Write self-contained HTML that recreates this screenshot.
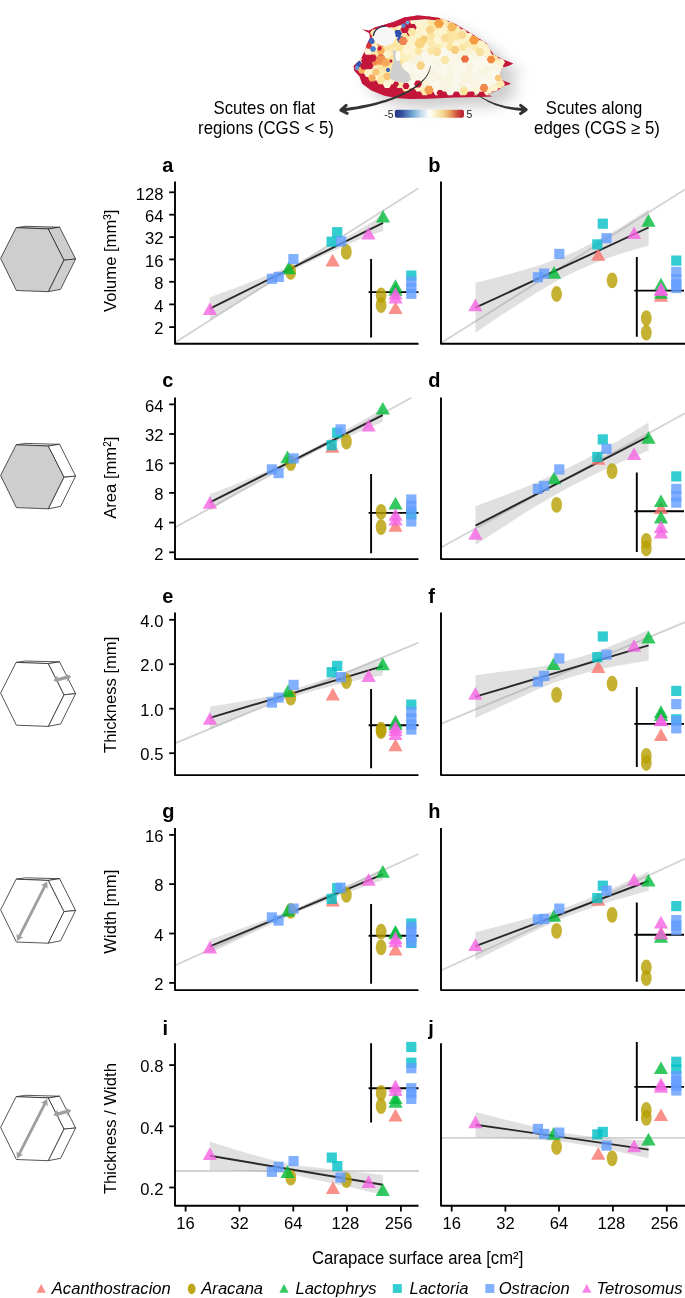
<!DOCTYPE html>
<html><head><meta charset="utf-8"><title>Figure</title>
<style>html,body{margin:0;padding:0;background:#fff}body{width:685px;height:1298px;overflow:hidden}svg{display:block}text{font-family:"Liberation Sans",sans-serif;fill:#000}</style>
</head><body>
<svg width="685" height="1298" viewBox="0 0 685 1298">
<defs>
<linearGradient id="cb" x1="0" x2="1" y1="0" y2="0"><stop offset="0" stop-color="#26337d"/><stop offset="0.1" stop-color="#35509f"/><stop offset="0.25" stop-color="#6ea3d0"/><stop offset="0.38" stop-color="#c4dcec"/><stop offset="0.5" stop-color="#ffffff"/><stop offset="0.6" stop-color="#f8edc4"/><stop offset="0.7" stop-color="#f3d590"/><stop offset="0.8" stop-color="#e9a060"/><stop offset="0.9" stop-color="#d0503f"/><stop offset="1" stop-color="#b2182b"/></linearGradient>
<filter id="blur6" x="-50%" y="-50%" width="200%" height="200%"><feGaussianBlur stdDeviation="7"/></filter>
<filter id="blur1" x="-20%" y="-20%" width="140%" height="140%"><feGaussianBlur stdDeviation="0.6"/></filter>
</defs>
<rect width="685" height="1298" fill="#fff"/>
<g id="fish">
<g filter="url(#blur6)" opacity="0.5"><path d="M373.1 38.3L379.7 39.6L386.2 36.3L395.4 33.7L405.9 30.4L415.1 26.5L428.3 24.5L436.0 24.9L450.6 27.1L465.2 32.2L479.8 41.0L490.0 47.6L497.3 52.0L504.6 63.6L514.8 68.7L524.3 72.4L520.7 74.6L513.4 76.8L511.2 82.6L513.4 89.2L522.1 92.8L514.8 95.0L507.5 100.1L498.8 103.1L503.2 105.4L491.5 106.0L465.2 106.4L438.6 107.8L421.7 107.9L408.6 107.3L395.4 104.7L382.3 99.4L373.1 92.8L370.5 85.6L365.2 79.7L364.5 75.1L371.8 67.9L375.7 60.0L377.7 53.4L381.0 46.8L380.3 42.2Z" fill="#9a9a9a"/></g>
<clipPath id="fishclip"><path d="M362.1 29.3L368.7 30.6L375.2 27.3L384.4 24.7L394.9 21.4L404.1 17.5L417.3 15.5L425.0 15.9L439.6 18.1L454.2 23.2L468.8 32.0L479.0 38.6L486.3 43.0L493.6 54.6L503.8 59.7L513.3 63.4L509.7 65.6L502.4 67.8L500.2 73.6L502.4 80.2L511.1 83.8L503.8 86.0L496.5 91.1L487.8 94.1L492.2 96.4L480.5 97.0L454.2 97.4L427.6 98.8L410.7 98.9L397.6 98.3L384.4 95.7L371.3 90.4L362.1 83.8L359.5 76.6L354.2 70.7L353.5 66.1L360.8 58.9L364.7 51.0L366.7 44.4L370.0 37.8L369.3 33.2Z"/></clipPath>
<path d="M362.1 29.3L368.7 30.6L375.2 27.3L384.4 24.7L394.9 21.4L404.1 17.5L417.3 15.5L425.0 15.9L439.6 18.1L454.2 23.2L468.8 32.0L479.0 38.6L486.3 43.0L493.6 54.6L503.8 59.7L513.3 63.4L509.7 65.6L502.4 67.8L500.2 73.6L502.4 80.2L511.1 83.8L503.8 86.0L496.5 91.1L487.8 94.1L492.2 96.4L480.5 97.0L454.2 97.4L427.6 98.8L410.7 98.9L397.6 98.3L384.4 95.7L371.3 90.4L362.1 83.8L359.5 76.6L354.2 70.7L353.5 66.1L360.8 58.9L364.7 51.0L366.7 44.4L370.0 37.8L369.3 33.2Z" fill="#c4163a"/>
<g clip-path="url(#fishclip)">
<path d="M373.0 33.6L373.4 38.1L373.4 38.2L373.4 38.4L373.4 38.5L373.4 38.7L373.4 38.8L373.3 38.9L370.0 45.7L368.0 52.2L367.9 52.3L367.9 52.4L363.7 60.8L363.7 60.9L363.6 61.0L363.5 61.1L357.7 67.3L358.2 67.8L365.4 72.2L365.5 72.3L365.6 72.4L370.1 76.3L377.4 78.4L377.5 78.4L388.3 82.8L399.3 85.9L411.1 88.4L427.5 90.8L454.1 91.3L480.4 91.5L480.6 91.5L483.5 92.0L483.5 91.9L483.5 91.8L483.5 91.6L483.5 91.5L483.6 91.3L483.6 91.2L483.7 91.1L483.8 90.9L483.9 90.8L484.0 90.7L484.1 90.6L484.2 90.5L484.4 90.5L484.5 90.4L494.4 86.9L501.3 82.7L500.8 82.3L500.6 82.2L500.5 82.2L500.4 82.0L500.3 81.9L500.3 81.8L500.2 81.7L500.2 81.5L497.8 74.1L497.7 73.9L497.7 73.8L497.7 73.6L497.7 73.5L497.7 73.3L497.8 73.2L497.8 73.1L500.4 66.5L500.4 66.4L500.5 66.2L500.6 66.1L500.7 66.0L500.8 65.9L500.9 65.8L501.0 65.7L504.5 63.9L502.5 63.5L502.3 63.4L502.2 63.4L502.1 63.3L491.4 57.5L491.2 57.4L491.1 57.4L491.0 57.3L490.9 57.2L490.9 57.0L490.8 56.9L484.1 45.1L477.5 41.0L477.5 41.0L467.3 34.4L453.0 25.7L438.9 20.9L424.7 19.2L417.7 19.6L405.4 22.0L396.7 26.0L396.6 26.1L385.9 29.5L385.8 29.5L376.9 32.0Z" fill="#fcf0c0"/>
<path d="M416.8 18.6L414.5 22.4L410.1 22.4L407.9 18.6L410.1 14.7L414.5 14.7Z" fill="#fdf5d6"/>
<path d="M429.4 18.6L427.1 22.4L422.7 22.4L420.5 18.6L422.7 14.7L427.1 14.7Z" fill="#fdf5d6"/>
<path d="M442.0 18.6L439.7 22.4L435.3 22.4L433.1 18.6L435.3 14.7L439.7 14.7Z" fill="#fbebb0"/>
<path d="M410.5 22.2L408.2 26.1L403.8 26.1L401.6 22.2L403.8 18.4L408.2 18.4Z" fill="#fbebb0"/>
<path d="M423.1 22.2L420.8 26.1L416.4 26.1L414.2 22.2L416.4 18.4L420.8 18.4Z" fill="#fdf5d6"/>
<path d="M435.7 22.2L433.4 26.1L429.0 26.1L426.8 22.2L429.0 18.4L433.4 18.4Z" fill="#fae6a2"/>
<path d="M448.3 22.2L446.0 26.1L441.6 26.1L439.4 22.2L441.6 18.4L446.0 18.4Z" fill="#fbebb0"/>
<path d="M404.2 25.8L401.9 29.7L397.5 29.7L395.3 25.8L397.5 22.0L401.9 22.0Z" fill="#fcf3cc"/>
<path d="M416.8 25.8L414.5 29.7L410.1 29.7L407.9 25.8L410.1 22.0L414.5 22.0Z" fill="#fcf3cc"/>
<path d="M429.4 25.8L427.1 29.7L422.7 29.7L420.5 25.8L422.7 22.0L427.1 22.0Z" fill="#fcf3cc"/>
<path d="M442.0 25.8L439.7 29.7L435.3 29.7L433.1 25.8L435.3 22.0L439.7 22.0Z" fill="#fae6a2"/>
<path d="M454.6 25.8L452.3 29.7L447.9 29.7L445.7 25.8L447.9 22.0L452.3 22.0Z" fill="#fbebb0"/>
<path d="M385.3 29.5L383.0 33.3L378.6 33.3L376.4 29.5L378.6 25.6L383.0 25.6Z" fill="#fdf5d6"/>
<path d="M397.9 29.5L395.6 33.3L391.2 33.3L389.0 29.5L391.2 25.6L395.6 25.6Z" fill="#fae6a2"/>
<path d="M410.5 29.5L408.2 33.3L403.8 33.3L401.6 29.5L403.8 25.6L408.2 25.6Z" fill="#fcf3cc"/>
<path d="M423.1 29.5L420.8 33.3L416.4 33.3L414.2 29.5L416.4 25.6L420.8 25.6Z" fill="#fcf3cc"/>
<path d="M435.7 29.5L433.4 33.3L429.0 33.3L426.8 29.5L429.0 25.6L433.4 25.6Z" fill="#fae6a2"/>
<path d="M448.3 29.5L446.0 33.3L441.6 33.3L439.4 29.5L441.6 25.6L446.0 25.6Z" fill="#fcf3cc"/>
<path d="M460.9 29.5L458.6 33.3L454.2 33.3L452.0 29.5L454.2 25.6L458.6 25.6Z" fill="#fbebb0"/>
<path d="M379.0 33.1L376.7 37.0L372.3 37.0L370.1 33.1L372.3 29.3L376.7 29.3Z" fill="#fbebb0"/>
<path d="M391.6 33.1L389.3 37.0L384.9 37.0L382.7 33.1L384.9 29.3L389.3 29.3Z" fill="#faf2d4"/>
<path d="M404.2 33.1L401.9 37.0L397.5 37.0L395.3 33.1L397.5 29.3L401.9 29.3Z" fill="#fae6a2"/>
<path d="M416.8 33.1L414.5 37.0L410.1 37.0L407.9 33.1L410.1 29.3L414.5 29.3Z" fill="#fcf3cc"/>
<path d="M429.4 33.1L427.1 37.0L422.7 37.0L420.5 33.1L422.7 29.3L427.1 29.3Z" fill="#fdf5d6"/>
<path d="M442.0 33.1L439.7 37.0L435.3 37.0L433.1 33.1L435.3 29.3L439.7 29.3Z" fill="#fcf3cc"/>
<path d="M454.6 33.1L452.3 37.0L447.9 37.0L445.7 33.1L447.9 29.3L452.3 29.3Z" fill="#fae6a2"/>
<path d="M467.2 33.1L464.9 37.0L460.5 37.0L458.3 33.1L460.5 29.3L464.9 29.3Z" fill="#fcf3cc"/>
<path d="M385.3 36.8L383.0 40.6L378.6 40.6L376.4 36.8L378.6 32.9L383.0 32.9Z" fill="#f6b15a"/>
<path d="M397.9 36.8L395.6 40.6L391.2 40.6L389.0 36.8L391.2 32.9L395.6 32.9Z" fill="#fae6a2"/>
<path d="M410.5 36.8L408.2 40.6L403.8 40.6L401.6 36.8L403.8 32.9L408.2 32.9Z" fill="#fae6a2"/>
<path d="M423.1 36.8L420.8 40.6L416.4 40.6L414.2 36.8L416.4 32.9L420.8 32.9Z" fill="#fcf3cc"/>
<path d="M435.7 36.8L433.4 40.6L429.0 40.6L426.8 36.8L429.0 32.9L433.4 32.9Z" fill="#fae6a2"/>
<path d="M448.3 36.8L446.0 40.6L441.6 40.6L439.4 36.8L441.6 32.9L446.0 32.9Z" fill="#fdf5d6"/>
<path d="M460.9 36.8L458.6 40.6L454.2 40.6L452.0 36.8L454.2 32.9L458.6 32.9Z" fill="#fae6a2"/>
<path d="M473.5 36.8L471.2 40.6L466.8 40.6L464.6 36.8L466.8 32.9L471.2 32.9Z" fill="#fcf3cc"/>
<path d="M379.0 40.4L376.7 44.3L372.3 44.3L370.1 40.4L372.3 36.5L376.7 36.5Z" fill="#fae6a2"/>
<path d="M391.6 40.4L389.3 44.3L384.9 44.3L382.7 40.4L384.9 36.5L389.3 36.5Z" fill="#f3a253"/>
<path d="M404.2 40.4L401.9 44.3L397.5 44.3L395.3 40.4L397.5 36.5L401.9 36.5Z" fill="#fae6a2"/>
<path d="M416.8 40.4L414.5 44.3L410.1 44.3L407.9 40.4L410.1 36.5L414.5 36.5Z" fill="#fcf3cc"/>
<path d="M429.4 40.4L427.1 44.3L422.7 44.3L420.5 40.4L422.7 36.5L427.1 36.5Z" fill="#fcf0c0"/>
<path d="M442.0 40.4L439.7 44.3L435.3 44.3L433.1 40.4L435.3 36.5L439.7 36.5Z" fill="#fdf5d6"/>
<path d="M454.6 40.4L452.3 44.3L447.9 44.3L445.7 40.4L447.9 36.5L452.3 36.5Z" fill="#fae6a2"/>
<path d="M467.2 40.4L464.9 44.3L460.5 44.3L458.3 40.4L460.5 36.5L464.9 36.5Z" fill="#fcf3cc"/>
<path d="M479.8 40.4L477.5 44.3L473.1 44.3L470.9 40.4L473.1 36.5L477.5 36.5Z" fill="#fae6a2"/>
<path d="M385.3 44.0L383.0 47.9L378.6 47.9L376.4 44.0L378.6 40.2L383.0 40.2Z" fill="#f08a4a"/>
<path d="M397.9 44.0L395.6 47.9L391.2 47.9L389.0 44.0L391.2 40.2L395.6 40.2Z" fill="#fae6a2"/>
<path d="M410.5 44.0L408.2 47.9L403.8 47.9L401.6 44.0L403.8 40.2L408.2 40.2Z" fill="#fcf3cc"/>
<path d="M423.1 44.0L420.8 47.9L416.4 47.9L414.2 44.0L416.4 40.2L420.8 40.2Z" fill="#fae6a2"/>
<path d="M435.7 44.0L433.4 47.9L429.0 47.9L426.8 44.0L429.0 40.2L433.4 40.2Z" fill="#fbebb0"/>
<path d="M448.3 44.0L446.0 47.9L441.6 47.9L439.4 44.0L441.6 40.2L446.0 40.2Z" fill="#fcf3cc"/>
<path d="M460.9 44.0L458.6 47.9L454.2 47.9L452.0 44.0L454.2 40.2L458.6 40.2Z" fill="#fdf5d6"/>
<path d="M473.5 44.0L471.2 47.9L466.8 47.9L464.6 44.0L466.8 40.2L471.2 40.2Z" fill="#fbebb0"/>
<path d="M486.1 44.0L483.8 47.9L479.4 47.9L477.2 44.0L479.4 40.2L483.8 40.2Z" fill="#fcf3cc"/>
<path d="M379.0 47.7L376.7 51.5L372.3 51.5L370.1 47.7L372.3 43.8L376.7 43.8Z" fill="#fcf3cc"/>
<path d="M391.6 47.7L389.3 51.5L384.9 51.5L382.7 47.7L384.9 43.8L389.3 43.8Z" fill="#fae6a2"/>
<path d="M404.2 47.7L401.9 51.5L397.5 51.5L395.3 47.7L397.5 43.8L401.9 43.8Z" fill="#fae6a2"/>
<path d="M416.8 47.7L414.5 51.5L410.1 51.5L407.9 47.7L410.1 43.8L414.5 43.8Z" fill="#fdf5d6"/>
<path d="M429.4 47.7L427.1 51.5L422.7 51.5L420.5 47.7L422.7 43.8L427.1 43.8Z" fill="#fdf5d6"/>
<path d="M442.0 47.7L439.7 51.5L435.3 51.5L433.1 47.7L435.3 43.8L439.7 43.8Z" fill="#fbebb0"/>
<path d="M454.6 47.7L452.3 51.5L447.9 51.5L445.7 47.7L447.9 43.8L452.3 43.8Z" fill="#fae6a2"/>
<path d="M467.2 47.7L464.9 51.5L460.5 51.5L458.3 47.7L460.5 43.8L464.9 43.8Z" fill="#fae6a2"/>
<path d="M479.8 47.7L477.5 51.5L473.1 51.5L470.9 47.7L473.1 43.8L477.5 43.8Z" fill="#fbebb0"/>
<path d="M492.4 47.7L490.1 51.5L485.7 51.5L483.5 47.7L485.7 43.8L490.1 43.8Z" fill="#fcf3cc"/>
<path d="M372.7 51.3L370.4 55.2L366.0 55.2L363.8 51.3L366.0 47.5L370.4 47.5Z" fill="#fdf5d6"/>
<path d="M385.3 51.3L383.0 55.2L378.6 55.2L376.4 51.3L378.6 47.5L383.0 47.5Z" fill="#f6b15a"/>
<path d="M397.9 51.3L395.6 55.2L391.2 55.2L389.0 51.3L391.2 47.5L395.6 47.5Z" fill="#fbebb0"/>
<path d="M410.5 51.3L408.2 55.2L403.8 55.2L401.6 51.3L403.8 47.5L408.2 47.5Z" fill="#fdf5d6"/>
<path d="M423.1 51.3L420.8 55.2L416.4 55.2L414.2 51.3L416.4 47.5L420.8 47.5Z" fill="#fae6a2"/>
<path d="M435.7 51.3L433.4 55.2L429.0 55.2L426.8 51.3L429.0 47.5L433.4 47.5Z" fill="#fae6a2"/>
<path d="M448.3 51.3L446.0 55.2L441.6 55.2L439.4 51.3L441.6 47.5L446.0 47.5Z" fill="#faf8ec"/>
<path d="M460.9 51.3L458.6 55.2L454.2 55.2L452.0 51.3L454.2 47.5L458.6 47.5Z" fill="#f9f7ea"/>
<path d="M473.5 51.3L471.2 55.2L466.8 55.2L464.6 51.3L466.8 47.5L471.2 47.5Z" fill="#faf2d4"/>
<path d="M486.1 51.3L483.8 55.2L479.4 55.2L477.2 51.3L479.4 47.5L483.8 47.5Z" fill="#fcf3cc"/>
<path d="M379.0 54.9L376.7 58.8L372.3 58.8L370.1 54.9L372.3 51.1L376.7 51.1Z" fill="#fae6a2"/>
<path d="M391.6 54.9L389.3 58.8L384.9 58.8L382.7 54.9L384.9 51.1L389.3 51.1Z" fill="#fcf3cc"/>
<path d="M404.2 54.9L401.9 58.8L397.5 58.8L395.3 54.9L397.5 51.1L401.9 51.1Z" fill="#fbebb0"/>
<path d="M416.8 54.9L414.5 58.8L410.1 58.8L407.9 54.9L410.1 51.1L414.5 51.1Z" fill="#fcf3cc"/>
<path d="M429.4 54.9L427.1 58.8L422.7 58.8L420.5 54.9L422.7 51.1L427.1 51.1Z" fill="#fbf9ee"/>
<path d="M442.0 54.9L439.7 58.8L435.3 58.8L433.1 54.9L435.3 51.1L439.7 51.1Z" fill="#fbf9ee"/>
<path d="M454.6 54.9L452.3 58.8L447.9 58.8L445.7 54.9L447.9 51.1L452.3 51.1Z" fill="#f9f7ea"/>
<path d="M467.2 54.9L464.9 58.8L460.5 58.8L458.3 54.9L460.5 51.1L464.9 51.1Z" fill="#f7f4e0"/>
<path d="M479.8 54.9L477.5 58.8L473.1 58.8L470.9 54.9L473.1 51.1L477.5 51.1Z" fill="#f8f5e2"/>
<path d="M492.4 54.9L490.1 58.8L485.7 58.8L483.5 54.9L485.7 51.1L490.1 51.1Z" fill="#fcf3cc"/>
<path d="M372.7 58.6L370.4 62.4L366.0 62.4L363.8 58.6L366.0 54.7L370.4 54.7Z" fill="#c4163a"/>
<path d="M385.3 58.6L383.0 62.4L378.6 62.4L376.4 58.6L378.6 54.7L383.0 54.7Z" fill="#c4163a"/>
<path d="M397.9 58.6L395.6 62.4L391.2 62.4L389.0 58.6L391.2 54.7L395.6 54.7Z" fill="#fae6a2"/>
<path d="M410.5 58.6L408.2 62.4L403.8 62.4L401.6 58.6L403.8 54.7L408.2 54.7Z" fill="#fcf0c0"/>
<path d="M423.1 58.6L420.8 62.4L416.4 62.4L414.2 58.6L416.4 54.7L420.8 54.7Z" fill="#f7f4e0"/>
<path d="M435.7 58.6L433.4 62.4L429.0 62.4L426.8 58.6L429.0 54.7L433.4 54.7Z" fill="#f9f7ea"/>
<path d="M448.3 58.6L446.0 62.4L441.6 62.4L439.4 58.6L441.6 54.7L446.0 54.7Z" fill="#faf8ec"/>
<path d="M460.9 58.6L458.6 62.4L454.2 62.4L452.0 58.6L454.2 54.7L458.6 54.7Z" fill="#f8f5e2"/>
<path d="M473.5 58.6L471.2 62.4L466.8 62.4L464.6 58.6L466.8 54.7L471.2 54.7Z" fill="#f9f7ea"/>
<path d="M486.1 58.6L483.8 62.4L479.4 62.4L477.2 58.6L479.4 54.7L483.8 54.7Z" fill="#faf8ec"/>
<path d="M498.7 58.6L496.4 62.4L492.0 62.4L489.8 58.6L492.0 54.7L496.4 54.7Z" fill="#fae6a2"/>
<path d="M366.4 62.2L364.1 66.1L359.7 66.1L357.5 62.2L359.7 58.4L364.1 58.4Z" fill="#fcf3cc"/>
<path d="M379.0 62.2L376.7 66.1L372.3 66.1L370.1 62.2L372.3 58.4L376.7 58.4Z" fill="#f08a4a"/>
<path d="M391.6 62.2L389.3 66.1L384.9 66.1L382.7 62.2L384.9 58.4L389.3 58.4Z" fill="#f7c274"/>
<path d="M404.2 62.2L401.9 66.1L397.5 66.1L395.3 62.2L397.5 58.4L401.9 58.4Z" fill="#fae6a2"/>
<path d="M416.8 62.2L414.5 66.1L410.1 66.1L407.9 62.2L410.1 58.4L414.5 58.4Z" fill="#f7f4e0"/>
<path d="M429.4 62.2L427.1 66.1L422.7 66.1L420.5 62.2L422.7 58.4L427.1 58.4Z" fill="#fbf9ee"/>
<path d="M442.0 62.2L439.7 66.1L435.3 66.1L433.1 62.2L435.3 58.4L439.7 58.4Z" fill="#f8f5e2"/>
<path d="M454.6 62.2L452.3 66.1L447.9 66.1L445.7 62.2L447.9 58.4L452.3 58.4Z" fill="#f9f7ea"/>
<path d="M467.2 62.2L464.9 66.1L460.5 66.1L458.3 62.2L460.5 58.4L464.9 58.4Z" fill="#f9f7ea"/>
<path d="M479.8 62.2L477.5 66.1L473.1 66.1L470.9 62.2L473.1 58.4L477.5 58.4Z" fill="#fbf9ee"/>
<path d="M492.4 62.2L490.1 66.1L485.7 66.1L483.5 62.2L485.7 58.4L490.1 58.4Z" fill="#fbf9ee"/>
<path d="M505.0 62.2L502.7 66.1L498.3 66.1L496.1 62.2L498.3 58.4L502.7 58.4Z" fill="#fcf3cc"/>
<path d="M372.7 65.9L370.4 69.7L366.0 69.7L363.8 65.9L366.0 62.0L370.4 62.0Z" fill="#c4163a"/>
<path d="M385.3 65.9L383.0 69.7L378.6 69.7L376.4 65.9L378.6 62.0L383.0 62.0Z" fill="#fae6a2"/>
<path d="M397.9 65.9L395.6 69.7L391.2 69.7L389.0 65.9L391.2 62.0L395.6 62.0Z" fill="#fae6a2"/>
<path d="M410.5 65.9L408.2 69.7L403.8 69.7L401.6 65.9L403.8 62.0L408.2 62.0Z" fill="#fbf9ee"/>
<path d="M423.1 65.9L420.8 69.7L416.4 69.7L414.2 65.9L416.4 62.0L420.8 62.0Z" fill="#faf8ec"/>
<path d="M435.7 65.9L433.4 69.7L429.0 69.7L426.8 65.9L429.0 62.0L433.4 62.0Z" fill="#fbf9ee"/>
<path d="M448.3 65.9L446.0 69.7L441.6 69.7L439.4 65.9L441.6 62.0L446.0 62.0Z" fill="#fbf9ee"/>
<path d="M460.9 65.9L458.6 69.7L454.2 69.7L452.0 65.9L454.2 62.0L458.6 62.0Z" fill="#f9f7ea"/>
<path d="M473.5 65.9L471.2 69.7L466.8 69.7L464.6 65.9L466.8 62.0L471.2 62.0Z" fill="#f7f4e0"/>
<path d="M486.1 65.9L483.8 69.7L479.4 69.7L477.2 65.9L479.4 62.0L483.8 62.0Z" fill="#fbf9ee"/>
<path d="M498.7 65.9L496.4 69.7L492.0 69.7L489.8 65.9L492.0 62.0L496.4 62.0Z" fill="#f8f5e2"/>
<path d="M366.4 69.5L364.1 73.4L359.7 73.4L357.5 69.5L359.7 65.6L364.1 65.6Z" fill="#f6b15a"/>
<path d="M379.0 69.5L376.7 73.4L372.3 73.4L370.1 69.5L372.3 65.6L376.7 65.6Z" fill="#fcf0c0"/>
<path d="M391.6 69.5L389.3 73.4L384.9 73.4L382.7 69.5L384.9 65.6L389.3 65.6Z" fill="#fae6a2"/>
<path d="M404.2 69.5L401.9 73.4L397.5 73.4L395.3 69.5L397.5 65.6L401.9 65.6Z" fill="#fae6a2"/>
<path d="M416.8 69.5L414.5 73.4L410.1 73.4L407.9 69.5L410.1 65.6L414.5 65.6Z" fill="#f9f7ea"/>
<path d="M429.4 69.5L427.1 73.4L422.7 73.4L420.5 69.5L422.7 65.6L427.1 65.6Z" fill="#fbf9ee"/>
<path d="M442.0 69.5L439.7 73.4L435.3 73.4L433.1 69.5L435.3 65.6L439.7 65.6Z" fill="#f9f7ea"/>
<path d="M454.6 69.5L452.3 73.4L447.9 73.4L445.7 69.5L447.9 65.6L452.3 65.6Z" fill="#f8f5e2"/>
<path d="M467.2 69.5L464.9 73.4L460.5 73.4L458.3 69.5L460.5 65.6L464.9 65.6Z" fill="#f9f7ea"/>
<path d="M479.8 69.5L477.5 73.4L473.1 73.4L470.9 69.5L473.1 65.6L477.5 65.6Z" fill="#fbf9ee"/>
<path d="M492.4 69.5L490.1 73.4L485.7 73.4L483.5 69.5L485.7 65.6L490.1 65.6Z" fill="#f8f5e2"/>
<path d="M505.0 69.5L502.7 73.4L498.3 73.4L496.1 69.5L498.3 65.6L502.7 65.6Z" fill="#f8f5e2"/>
<path d="M372.7 73.1L370.4 77.0L366.0 77.0L363.8 73.1L366.0 69.3L370.4 69.3Z" fill="#fcf3cc"/>
<path d="M385.3 73.1L383.0 77.0L378.6 77.0L376.4 73.1L378.6 69.3L383.0 69.3Z" fill="#fbebb0"/>
<path d="M397.9 73.1L395.6 77.0L391.2 77.0L389.0 73.1L391.2 69.3L395.6 69.3Z" fill="#fae6a2"/>
<path d="M410.5 73.1L408.2 77.0L403.8 77.0L401.6 73.1L403.8 69.3L408.2 69.3Z" fill="#faf8ec"/>
<path d="M423.1 73.1L420.8 77.0L416.4 77.0L414.2 73.1L416.4 69.3L420.8 69.3Z" fill="#fbf9ee"/>
<path d="M435.7 73.1L433.4 77.0L429.0 77.0L426.8 73.1L429.0 69.3L433.4 69.3Z" fill="#f7f4e0"/>
<path d="M448.3 73.1L446.0 77.0L441.6 77.0L439.4 73.1L441.6 69.3L446.0 69.3Z" fill="#fbf9ee"/>
<path d="M460.9 73.1L458.6 77.0L454.2 77.0L452.0 73.1L454.2 69.3L458.6 69.3Z" fill="#faf8ec"/>
<path d="M473.5 73.1L471.2 77.0L466.8 77.0L464.6 73.1L466.8 69.3L471.2 69.3Z" fill="#f7f4e0"/>
<path d="M486.1 73.1L483.8 77.0L479.4 77.0L477.2 73.1L479.4 69.3L483.8 69.3Z" fill="#f7f4e0"/>
<path d="M498.7 73.1L496.4 77.0L492.0 77.0L489.8 73.1L492.0 69.3L496.4 69.3Z" fill="#fbf9ee"/>
<path d="M379.0 76.8L376.7 80.6L372.3 80.6L370.1 76.8L372.3 72.9L376.7 72.9Z" fill="#fdf5d6"/>
<path d="M391.6 76.8L389.3 80.6L384.9 80.6L382.7 76.8L384.9 72.9L389.3 72.9Z" fill="#f7c274"/>
<path d="M404.2 76.8L401.9 80.6L397.5 80.6L395.3 76.8L397.5 72.9L401.9 72.9Z" fill="#fae6a2"/>
<path d="M416.8 76.8L414.5 80.6L410.1 80.6L407.9 76.8L410.1 72.9L414.5 72.9Z" fill="#f8f5e2"/>
<path d="M429.4 76.8L427.1 80.6L422.7 80.6L420.5 76.8L422.7 72.9L427.1 72.9Z" fill="#faf8ec"/>
<path d="M442.0 76.8L439.7 80.6L435.3 80.6L433.1 76.8L435.3 72.9L439.7 72.9Z" fill="#f8f5e2"/>
<path d="M454.6 76.8L452.3 80.6L447.9 80.6L445.7 76.8L447.9 72.9L452.3 72.9Z" fill="#f7f4e0"/>
<path d="M467.2 76.8L464.9 80.6L460.5 80.6L458.3 76.8L460.5 72.9L464.9 72.9Z" fill="#f8f5e2"/>
<path d="M479.8 76.8L477.5 80.6L473.1 80.6L470.9 76.8L473.1 72.9L477.5 72.9Z" fill="#f9f7ea"/>
<path d="M492.4 76.8L490.1 80.6L485.7 80.6L483.5 76.8L485.7 72.9L490.1 72.9Z" fill="#f9f7ea"/>
<path d="M505.0 76.8L502.7 80.6L498.3 80.6L496.1 76.8L498.3 72.9L502.7 72.9Z" fill="#f8f5e2"/>
<path d="M385.3 80.4L383.0 84.3L378.6 84.3L376.4 80.4L378.6 76.6L383.0 76.6Z" fill="#fae6a2"/>
<path d="M397.9 80.4L395.6 84.3L391.2 84.3L389.0 80.4L391.2 76.6L395.6 76.6Z" fill="#fcf3cc"/>
<path d="M410.5 80.4L408.2 84.3L403.8 84.3L401.6 80.4L403.8 76.6L408.2 76.6Z" fill="#fdf5d6"/>
<path d="M423.1 80.4L420.8 84.3L416.4 84.3L414.2 80.4L416.4 76.6L420.8 76.6Z" fill="#f9f7ea"/>
<path d="M435.7 80.4L433.4 84.3L429.0 84.3L426.8 80.4L429.0 76.6L433.4 76.6Z" fill="#f9f7ea"/>
<path d="M448.3 80.4L446.0 84.3L441.6 84.3L439.4 80.4L441.6 76.6L446.0 76.6Z" fill="#f8f5e2"/>
<path d="M460.9 80.4L458.6 84.3L454.2 84.3L452.0 80.4L454.2 76.6L458.6 76.6Z" fill="#faf8ec"/>
<path d="M473.5 80.4L471.2 84.3L466.8 84.3L464.6 80.4L466.8 76.6L471.2 76.6Z" fill="#f8f5e2"/>
<path d="M486.1 80.4L483.8 84.3L479.4 84.3L477.2 80.4L479.4 76.6L483.8 76.6Z" fill="#faf8ec"/>
<path d="M498.7 80.4L496.4 84.3L492.0 84.3L489.8 80.4L492.0 76.6L496.4 76.6Z" fill="#fbf9ee"/>
<path d="M391.6 84.0L389.3 87.9L384.9 87.9L382.7 84.0L384.9 80.2L389.3 80.2Z" fill="#fdf5d6"/>
<path d="M404.2 84.0L401.9 87.9L397.5 87.9L395.3 84.0L397.5 80.2L401.9 80.2Z" fill="#fbebb0"/>
<path d="M416.8 84.0L414.5 87.9L410.1 87.9L407.9 84.0L410.1 80.2L414.5 80.2Z" fill="#fbf9ee"/>
<path d="M429.4 84.0L427.1 87.9L422.7 87.9L420.5 84.0L422.7 80.2L427.1 80.2Z" fill="#faf2d4"/>
<path d="M442.0 84.0L439.7 87.9L435.3 87.9L433.1 84.0L435.3 80.2L439.7 80.2Z" fill="#fbf9ee"/>
<path d="M454.6 84.0L452.3 87.9L447.9 87.9L445.7 84.0L447.9 80.2L452.3 80.2Z" fill="#f8f5e2"/>
<path d="M467.2 84.0L464.9 87.9L460.5 87.9L458.3 84.0L460.5 80.2L464.9 80.2Z" fill="#f7f4e0"/>
<path d="M479.8 84.0L477.5 87.9L473.1 87.9L470.9 84.0L473.1 80.2L477.5 80.2Z" fill="#f8f5e2"/>
<path d="M492.4 84.0L490.1 87.9L485.7 87.9L483.5 84.0L485.7 80.2L490.1 80.2Z" fill="#faf8ec"/>
<path d="M505.0 84.0L502.7 87.9L498.3 87.9L496.1 84.0L498.3 80.2L502.7 80.2Z" fill="#fbebb0"/>
<path d="M410.5 87.7L408.2 91.5L403.8 91.5L401.6 87.7L403.8 83.8L408.2 83.8Z" fill="#fbebb0"/>
<path d="M423.1 87.7L420.8 91.5L416.4 91.5L414.2 87.7L416.4 83.8L420.8 83.8Z" fill="#fcf3cc"/>
<path d="M435.7 87.7L433.4 91.5L429.0 91.5L426.8 87.7L429.0 83.8L433.4 83.8Z" fill="#fbf9ee"/>
<path d="M448.3 87.7L446.0 91.5L441.6 91.5L439.4 87.7L441.6 83.8L446.0 83.8Z" fill="#f7f4e0"/>
<path d="M460.9 87.7L458.6 91.5L454.2 91.5L452.0 87.7L454.2 83.8L458.6 83.8Z" fill="#f9f7ea"/>
<path d="M473.5 87.7L471.2 91.5L466.8 91.5L464.6 87.7L466.8 83.8L471.2 83.8Z" fill="#f9f7ea"/>
<path d="M486.1 87.7L483.8 91.5L479.4 91.5L477.2 87.7L479.4 83.8L483.8 83.8Z" fill="#fbf9ee"/>
<path d="M498.7 87.7L496.4 91.5L492.0 91.5L489.8 87.7L492.0 83.8L496.4 83.8Z" fill="#fcf3cc"/>
<path d="M429.4 91.3L427.1 95.2L422.7 95.2L420.5 91.3L422.7 87.5L427.1 87.5Z" fill="#fbebb0"/>
<path d="M442.0 91.3L439.7 95.2L435.3 95.2L433.1 91.3L435.3 87.5L439.7 87.5Z" fill="#fbf9ee"/>
<path d="M454.6 91.3L452.3 95.2L447.9 95.2L445.7 91.3L447.9 87.5L452.3 87.5Z" fill="#f9f7ea"/>
<path d="M467.2 91.3L464.9 95.2L460.5 95.2L458.3 91.3L460.5 87.5L464.9 87.5Z" fill="#fbf9ee"/>
<path d="M479.8 91.3L477.5 95.2L473.1 95.2L470.9 91.3L473.1 87.5L477.5 87.5Z" fill="#fdf5d6"/>
<path d="M492.4 91.3L490.1 95.2L485.7 95.2L483.5 91.3L485.7 87.5L490.1 87.5Z" fill="#fcf3cc"/>
<path d="M372 30L380 25L394 21L404 17L418 15L440 17L440 20.5L425 19.2L410 20.5L402 24.5L394 27.5L386 26.5L378 28Z" fill="#c4163a"/>
<path d="M411.6 24.5L409.3 28.5L404.7 28.5L402.4 24.5L404.7 20.5L409.3 20.5Z" fill="#c4163a"/>
<path d="M416.7 27.5L414.6 31.1L410.4 31.1L408.3 27.5L410.4 23.9L414.6 23.9Z" fill="#c4163a"/>
<path d="M408.7 29.5L406.6 33.1L402.4 33.1L400.3 29.5L402.4 25.9L406.6 25.9Z" fill="#c4163a"/>
<path d="M413.8 32.5L411.9 35.8L408.1 35.8L406.2 32.5L408.1 29.2L411.9 29.2Z" fill="#c4163a"/>
<path d="M402.0 33.5L399.9 37.1L395.7 37.1L393.6 33.5L395.7 29.9L399.9 29.9Z" fill="#2f4fae"/>
<path d="M404.4 39.5L402.5 42.8L398.7 42.8L396.8 39.5L398.7 36.2L402.5 36.2Z" fill="#3a57b5"/>
<path d="M405.9 25.6L404.7 27.7L402.3 27.7L401.1 25.6L402.3 23.5L404.7 23.5Z" fill="#4f86cc"/>
<path d="M409.7 22.6L408.6 24.5L406.4 24.5L405.3 22.6L406.4 20.7L408.6 20.7Z" fill="#6fa6da"/>
<path d="M423.5 43.6L421.2 47.5L416.8 47.5L414.5 43.6L416.8 39.7L421.2 39.7Z" fill="#f7c777"/>
<path d="M425.2 65.5L422.9 69.4L418.4 69.4L416.2 65.5L418.4 61.6L422.9 61.6Z" fill="#f8d184"/>
<path d="M375.0 41.0L373.2 44.0L369.8 44.0L368.0 41.0L369.8 38.0L373.2 38.0Z" fill="#3b62bd"/>
<path d="M372.2 46.0L370.6 48.8L367.4 48.8L365.8 46.0L367.4 43.2L370.6 43.2Z" fill="#d9362f"/>
<path d="M376.2 49.0L374.6 51.8L371.4 51.8L369.8 49.0L371.4 46.2L374.6 46.2Z" fill="#4a7fd0"/>
<path d="M381.7 48.5L380.6 50.4L378.4 50.4L377.3 48.5L378.4 46.6L380.6 46.6Z" fill="#c4163a"/>
<path d="M362.0 64.0L360.2 67.0L356.8 67.0L355.0 64.0L356.8 61.0L360.2 61.0Z" fill="#3553b0"/>
<path d="M359.5 68.0L358.2 70.2L355.8 70.2L354.5 68.0L355.8 65.8L358.2 65.8Z" fill="#6f8fd0"/>
<path d="M390.2 70.0L389.1 71.9L386.9 71.9L385.8 70.0L386.9 68.1L389.1 68.1Z" fill="#3a5fc0"/>
<path d="M392.6 61.0L391.8 62.4L390.2 62.4L389.4 61.0L390.2 59.6L391.8 59.6Z" fill="#c4163a"/>
<path d="M373.0 61.0L370.0 66.2L364.0 66.2L361.0 61.0L364.0 55.8L370.0 55.8Z" fill="#c4163a"/>
<path d="M377.0 58.0L375.0 61.5L371.0 61.5L369.0 58.0L371.0 54.5L375.0 54.5Z" fill="#c4163a"/>
<path d="M368.0 66.0L366.0 69.5L362.0 69.5L360.0 66.0L362.0 62.5L366.0 62.5Z" fill="#c4163a"/>
<path d="M373.5 66.0L371.8 69.0L368.2 69.0L366.5 66.0L368.2 63.0L371.8 63.0Z" fill="#c4163a"/>
<path d="M407.8 41.0L405.5 45.0L400.9 45.0L398.6 41.0L400.9 37.0L405.5 37.0Z" fill="#f08454"/>
<path d="M386.5 60.0L383.8 64.8L378.2 64.8L375.5 60.0L378.2 55.2L383.8 55.2Z" fill="#f3924e"/>
<path d="M389.5 63.0L387.5 66.5L383.5 66.5L381.5 63.0L383.5 59.5L387.5 59.5Z" fill="#f6a95a"/>
<path d="M380.0 72.0L378.0 75.5L374.0 75.5L372.0 72.0L374.0 68.5L378.0 68.5Z" fill="#f9c67a"/>
<path d="M376.0 78.0L374.0 81.5L370.0 81.5L368.0 78.0L370.0 74.5L374.0 74.5Z" fill="#f6a85c"/>
<path d="M425.5 43.0L422.8 47.8L417.2 47.8L414.5 43.0L417.2 38.2L422.8 38.2Z" fill="#f9d483"/>
<path d="M428.0 39.0L426.0 42.5L422.0 42.5L420.0 39.0L422.0 35.5L426.0 35.5Z" fill="#f8cf7c"/>
<path d="M444.0 23.5L441.5 27.8L436.5 27.8L434.0 23.5L436.5 19.2L441.5 19.2Z" fill="#f4a044"/>
<path d="M457.0 27.0L454.5 31.3L449.5 31.3L447.0 27.0L449.5 22.7L454.5 22.7Z" fill="#f7b95e"/>
<path d="M479.0 40.0L476.5 44.3L471.5 44.3L469.0 40.0L471.5 35.7L476.5 35.7Z" fill="#f5993f"/>
<path d="M469.2 59.0L467.1 62.6L462.9 62.6L460.8 59.0L462.9 55.4L467.1 55.4Z" fill="#ee6b3f"/>
<path d="M495.3 59.5L493.1 63.2L488.9 63.2L486.7 59.5L488.9 55.8L493.1 55.8Z" fill="#f38a42"/>
<path d="M488.5 88.0L486.2 91.9L481.8 91.9L479.5 88.0L481.8 84.1L486.2 84.1Z" fill="#f0884e"/>
<path d="M433.8 90.0L431.4 94.2L426.6 94.2L424.2 90.0L426.6 85.8L431.4 85.8Z" fill="#f4a050"/>
<path d="M468.5 91.0L466.2 94.9L461.8 94.9L459.5 91.0L461.8 87.1L466.2 87.1Z" fill="#fae39a"/>
<path d="M501.5 78.0L499.8 81.0L496.2 81.0L494.5 78.0L496.2 75.0L499.8 75.0Z" fill="#f8c879"/>
<path d="M434.5 30.0L432.2 33.9L427.8 33.9L425.5 30.0L427.8 26.1L432.2 26.1Z" fill="#f8d58a"/>
<path d="M449.5 38.0L447.2 41.9L442.8 41.9L440.5 38.0L442.8 34.1L447.2 34.1Z" fill="#f9dc96"/>
<path d="M459.5 50.0L457.2 53.9L452.8 53.9L450.5 50.0L452.8 46.1L457.2 46.1Z" fill="#f8cf80"/>
<path d="M441.5 52.0L439.2 55.9L434.8 55.9L432.5 52.0L434.8 48.1L439.2 48.1Z" fill="#f9de9c"/>
<path d="M416.5 32.0L414.2 35.9L409.8 35.9L407.5 32.0L409.8 28.1L414.2 28.1Z" fill="#fae7a8"/>
<path d="M466.5 35.0L464.2 38.9L459.8 38.9L457.5 35.0L459.8 31.1L464.2 31.1Z" fill="#f9d994"/>
<path d="M484.5 52.0L482.2 55.9L477.8 55.9L475.5 52.0L477.8 48.1L482.2 48.1Z" fill="#f9dfa0"/>
<path d="M449.5 60.0L447.2 63.9L442.8 63.9L440.5 60.0L442.8 56.1L447.2 56.1Z" fill="#fae5aa"/>
<path d="M422.0 84.0L420.0 87.5L416.0 87.5L414.0 84.0L416.0 80.5L420.0 80.5Z" fill="#c4163a"/>
<path d="M443.5 93.0L441.8 96.0L438.2 96.0L436.5 93.0L438.2 90.0L441.8 90.0Z" fill="#c4163a"/>
<path d="M409.5 86.0L407.8 89.0L404.2 89.0L402.5 86.0L404.2 83.0L407.8 83.0Z" fill="#c4163a"/>
<path d="M399.0 84.0L397.5 86.6L394.5 86.6L393.0 84.0L394.5 81.4L397.5 81.4Z" fill="#c4163a"/>
<path d="M475.0 94.0L473.5 96.6L470.5 96.6L469.0 94.0L470.5 91.4L473.5 91.4Z" fill="#c4163a"/>
</g>
<ellipse cx="384.5" cy="36.3" rx="11.1" ry="9.9" fill="#f7f7f7"/>
<path d="M373.2 36C374 30 379 26.4 385.5 26" stroke="#2b2f55" stroke-width="1.3" fill="none"/>
<path d="M393.4 50.6L397.2 52.6L399.6 62.2L402.2 68.6L408.6 73.6L410.6 79.6L405.8 82.6L396.9 81.2L390.0 78.0L391.6 69.4L394.4 61.0Z" fill="#cfcfcf" stroke="#cfcfcf" stroke-width="1" stroke-linejoin="round"/>
<ellipse cx="398" cy="56" rx="2.5" ry="5" fill="#fdfdf5"/>
</g>
<rect x="394.9" y="109.7" width="69.0" height="8" rx="1.8" fill="url(#cb)"/>
<g opacity="0.999"><text transform="translate(393.5 117.5) scale(1 1.04)" font-size="10.4" text-anchor="end" style="fill:#222">-5</text></g>
<g opacity="0.999"><text transform="translate(466.4 117.5) scale(1 1.04)" font-size="10.4" style="fill:#222">5</text></g>
<path d="M430.4 65.5L429.9 67.7L429.3 69.8L428.4 71.9L427.4 73.9L426.1 75.9L424.6 77.9L422.9 79.8L421.0 81.6L419.0 83.4L416.8 85.1L414.3 86.8L411.8 88.5L409.0 90.1L406.1 91.6L403.0 93.1L399.8 94.5L396.5 95.9L393.0 97.2L389.4 98.5L385.7 99.7L381.8 100.8L377.9 101.9L373.8 102.9L369.6 103.9L365.3 104.8L361.0 105.6L356.6 106.4L352.0 107.1L347.5 107.7L342.8 108.3L343.2 111.5L347.9 110.8L352.5 110.1L357.1 109.3L361.5 108.4L365.9 107.5L370.2 106.5L374.4 105.4L378.5 104.3L382.5 103.1L386.4 101.9L390.1 100.6L393.8 99.2L397.3 97.8L400.6 96.3L403.9 94.8L406.9 93.2L409.8 91.5L412.6 89.8L415.2 88.1L417.6 86.3L419.8 84.4L421.9 82.5L423.7 80.5L425.4 78.5L426.9 76.5L428.1 74.4L429.1 72.2L429.9 70.0L430.5 67.8L430.8 65.5Z" fill="#333"/>
<path d="M346.2 105.4L340.8 110.2L347.2 113.3" stroke="#333" stroke-width="3.0" fill="none" stroke-linecap="round" stroke-linejoin="round"/>
<path d="M476.4 94.2L477.7 95.2L479.0 96.2L480.4 97.2L481.8 98.1L483.1 99.0L484.5 99.8L486.0 100.6L487.4 101.4L488.8 102.2L490.3 102.9L491.8 103.6L493.3 104.3L494.8 104.9L496.3 105.5L497.9 106.0L499.5 106.6L501.1 107.1L502.7 107.6L504.3 108.0L506.0 108.4L507.7 108.8L509.4 109.2L511.1 109.5L512.9 109.8L514.7 110.1L516.5 110.4L518.3 110.6L520.1 110.8L522.0 110.9L523.9 111.1L524.1 107.9L522.2 107.8L520.4 107.8L518.6 107.7L516.8 107.5L515.0 107.4L513.2 107.2L511.5 107.0L509.8 106.7L508.1 106.5L506.5 106.2L504.8 105.9L503.2 105.5L501.6 105.1L500.0 104.7L498.5 104.3L496.9 103.8L495.4 103.3L493.9 102.8L492.4 102.2L490.9 101.6L489.4 101.0L487.9 100.3L486.5 99.6L485.1 98.9L483.6 98.1L482.2 97.3L480.8 96.5L479.4 95.6L478.0 94.7L476.6 93.8Z" fill="#333"/>
<path d="M520.6 105.4L526.2 109.7L520.6 113.6" stroke="#333" stroke-width="3.0" fill="none" stroke-linecap="round" stroke-linejoin="round"/>
<g stroke="#2a2a2a" stroke-width="0.8" stroke-linejoin="round">
<path d="M16.1 227.7L25.5 226.3L59.6 227.2L48.2 228.9Z" fill="#cecece"/>
<path d="M48.2 228.9L59.6 227.2L75.6 259.0L63.9 260.1Z" fill="#cecece"/>
<path d="M63.9 260.1L75.6 259.0L60.6 289.3L48.2 291.7Z" fill="#cecece"/>
<path d="M0.6 258.4L16.1 227.7L48.2 228.9L63.9 260.1L48.2 291.7L16.4 290.5Z" fill="#cecece"/>
</g>
<g stroke="#2a2a2a" stroke-width="0.8" stroke-linejoin="round">
<path d="M16.1 444.8L25.5 443.4L59.6 444.3L48.2 446.0Z" fill="#fff"/>
<path d="M48.2 446.0L59.6 444.3L75.6 476.1L63.9 477.2Z" fill="#fff"/>
<path d="M63.9 477.2L75.6 476.1L60.6 506.4L48.2 508.8Z" fill="#fff"/>
<path d="M0.6 475.5L16.1 444.8L48.2 446.0L63.9 477.2L48.2 508.8L16.4 507.6Z" fill="#cecece"/>
</g>
<g stroke="#2a2a2a" stroke-width="0.8" stroke-linejoin="round">
<path d="M16.1 662.4L25.5 661.0L59.6 661.9L48.2 663.6Z" fill="#fff"/>
<path d="M48.2 663.6L59.6 661.9L75.6 693.7L63.9 694.8Z" fill="#fff"/>
<path d="M63.9 694.8L75.6 693.7L60.6 724.0L48.2 726.4Z" fill="#fff"/>
<path d="M0.6 693.1L16.1 662.4L48.2 663.6L63.9 694.8L48.2 726.4L16.4 725.2Z" fill="#fff"/>
</g>
<path d="M53.3 680.6L59.8 683.6L58.2 681.2L67.1 679.0L66.8 681.9L71.2 676.3L64.7 673.3L66.3 675.7L57.4 677.9L57.7 675.0Z" fill="#9e9e9e"/>
<g stroke="#2a2a2a" stroke-width="0.8" stroke-linejoin="round">
<path d="M16.1 879.2L25.5 877.8L59.6 878.7L48.2 880.4Z" fill="#fff"/>
<path d="M48.2 880.4L59.6 878.7L75.6 910.5L63.9 911.6Z" fill="#fff"/>
<path d="M63.9 911.6L75.6 910.5L60.6 940.8L48.2 943.2Z" fill="#fff"/>
<path d="M0.6 909.9L16.1 879.2L48.2 880.4L63.9 911.6L48.2 943.2L16.4 942.0Z" fill="#fff"/>
</g>
<path d="M17.0 941.1L23.4 937.1L20.7 936.8L46.0 886.9L47.7 889.0L47.2 881.4L40.8 885.4L43.5 885.7L18.2 935.6L16.5 933.5Z" fill="#9e9e9e"/>
<g stroke="#2a2a2a" stroke-width="0.8" stroke-linejoin="round">
<path d="M16.1 1096.7L25.5 1095.3L59.6 1096.2L48.2 1097.9Z" fill="#fff"/>
<path d="M48.2 1097.9L59.6 1096.2L75.6 1128.0L63.9 1129.1Z" fill="#fff"/>
<path d="M63.9 1129.1L75.6 1128.0L60.6 1158.3L48.2 1160.7Z" fill="#fff"/>
<path d="M0.6 1127.4L16.1 1096.7L48.2 1097.9L63.9 1129.1L48.2 1160.7L16.4 1159.5Z" fill="#fff"/>
</g>
<path d="M53.3 1114.9L59.8 1117.9L58.2 1115.5L67.1 1113.3L66.8 1116.2L71.2 1110.6L64.7 1107.6L66.3 1110.0L57.4 1112.2L57.7 1109.3Z" fill="#9e9e9e"/>
<path d="M17.0 1158.6L23.4 1154.6L20.7 1154.3L46.0 1104.4L47.7 1106.5L47.2 1098.9L40.8 1102.9L43.5 1103.2L18.2 1153.1L16.5 1151.0Z" fill="#9e9e9e"/>
<g id="panel-a">
<clipPath id="cp-a"><rect x="175" y="181.5" width="244.0" height="162.2"/></clipPath>
<line x1="175" y1="342.5" x2="418.5" y2="188.2" stroke="#d3d3d3" stroke-width="1.8" clip-path="url(#cp-a)"/>
<path d="M209.9 297.2L229.2 290.3L251.1 281.9L273.0 273.1L287.6 267.1L300.0 261.4L311.9 255.2L326.5 247.5L341.1 239.7L355.7 231.7L370.3 223.1L383.1 214.7L383.1 230.9L370.3 235.1L355.7 241.1L341.1 247.5L326.5 254.1L311.9 261.0L300.0 266.6L287.6 273.2L273.0 281.5L251.1 294.5L229.2 307.8L209.9 320.0Z" fill="#999" fill-opacity="0.3"/>
<line x1="209.9" y1="308.6" x2="383.1" y2="222.8" stroke="#282828" stroke-width="1.9"/>
<g fill-opacity="0.8">
<path d="M209.9 302.2L202.8 314.9H217.1Z" fill="#F564E3"/>
<ellipse cx="290.7" cy="271.9" rx="5.4" ry="7.9" fill="#B79F00"/>
<path d="M288.7 261.5L281.6 274.2H295.8Z" fill="#00BA38"/>
<rect x="266.9" y="273.7" width="10.2" height="10.2" fill="#619CFF"/>
<rect x="273.7" y="271.8" width="10.2" height="10.2" fill="#619CFF"/>
<rect x="288.3" y="254.0" width="10.2" height="10.2" fill="#619CFF"/>
<path d="M332.6 253.7L325.5 266.4H339.8Z" fill="#F8766D"/>
<ellipse cx="346.3" cy="251.9" rx="5.4" ry="7.9" fill="#B79F00"/>
<rect x="326.5" y="236.6" width="10.2" height="10.2" fill="#00BFC4"/>
<rect x="332.1" y="227.1" width="10.2" height="10.2" fill="#00BFC4"/>
<rect x="336.0" y="236.3" width="10.2" height="10.2" fill="#619CFF"/>
<path d="M368.5 226.9L361.4 239.6H375.6Z" fill="#F564E3"/>
<path d="M383.0 209.9L375.9 222.6H390.1Z" fill="#00BA38"/>
</g>
<path d="M371.1 258.9V337.5M368.6 292.1H418.5" stroke="#000" stroke-width="1.9" fill="none"/>
<g fill-opacity="0.8">
<ellipse cx="381.1" cy="295.3" rx="5.4" ry="7.9" fill="#B79F00"/>
<ellipse cx="381.1" cy="305.2" rx="5.4" ry="7.9" fill="#B79F00"/>
<path d="M395.5 301.2L388.4 313.9H402.6Z" fill="#F8766D"/>
<path d="M395.5 283.0L388.4 295.7H402.6Z" fill="#00BA38"/>
<path d="M395.5 279.3L388.4 292.0H402.6Z" fill="#00BA38"/>
<path d="M395.5 290.8L388.4 303.5H402.6Z" fill="#F564E3"/>
<path d="M395.5 286.8L388.4 299.5H402.6Z" fill="#F564E3"/>
<rect x="406.2" y="270.5" width="10.2" height="10.2" fill="#00BFC4"/>
<rect x="406.2" y="276.7" width="10.2" height="10.2" fill="#619CFF"/>
<rect x="406.2" y="282.9" width="10.2" height="10.2" fill="#619CFF"/>
<rect x="406.2" y="288.7" width="10.2" height="10.2" fill="#619CFF"/>
</g>
<path d="M175 181.5V343.8H418.5" stroke="#000" stroke-width="1.9" fill="none" stroke-linejoin="round"/>
</g>
<g id="panel-b">
<clipPath id="cp-b"><rect x="441" y="181.5" width="244.5" height="162.2"/></clipPath>
<line x1="441" y1="343" x2="685" y2="189.5" stroke="#d3d3d3" stroke-width="1.8" clip-path="url(#cp-b)"/>
<path d="M475.5 282.7L501.5 276.3L523.4 270.0L538.0 265.7L552.6 260.5L560.0 258.1L577.5 250.4L595.0 241.6L612.5 232.0L620.0 227.7L628.0 222.6L642.6 213.3L648.6 209.1L648.6 245.9L642.6 247.3L628.0 251.4L620.0 253.9L612.5 256.4L595.0 263.0L577.5 270.4L560.0 278.9L552.6 283.5L538.0 291.7L523.4 301.0L501.5 315.1L475.5 332.7Z" fill="#999" fill-opacity="0.3"/>
<line x1="475.5" y1="307.7" x2="648.6" y2="227.5" stroke="#282828" stroke-width="1.9"/>
<g fill-opacity="0.8">
<path d="M475.4 298.5L468.2 311.2H482.5Z" fill="#F564E3"/>
<ellipse cx="556.6" cy="294.0" rx="5.4" ry="7.9" fill="#B79F00"/>
<path d="M554.1 266.0L547.0 278.7H561.2Z" fill="#00BA38"/>
<rect x="532.8" y="272.2" width="10.2" height="10.2" fill="#619CFF"/>
<rect x="539.0" y="268.5" width="10.2" height="10.2" fill="#619CFF"/>
<rect x="554.2" y="248.8" width="10.2" height="10.2" fill="#619CFF"/>
<path d="M598.3 248.1L591.1 260.8H605.4Z" fill="#F8766D"/>
<ellipse cx="612.1" cy="280.3" rx="5.4" ry="7.9" fill="#B79F00"/>
<rect x="597.7" y="218.6" width="10.2" height="10.2" fill="#00BFC4"/>
<rect x="592.2" y="239.3" width="10.2" height="10.2" fill="#00BFC4"/>
<rect x="601.4" y="233.1" width="10.2" height="10.2" fill="#619CFF"/>
<path d="M634.1 226.4L627.0 239.1H641.2Z" fill="#F564E3"/>
<path d="M648.5 214.1L641.4 226.8H655.6Z" fill="#00BA38"/>
</g>
<path d="M636.8 256.9V336.8M634.3 290.6H684" stroke="#000" stroke-width="1.9" fill="none"/>
<g fill-opacity="0.8">
<ellipse cx="646.3" cy="318.2" rx="5.4" ry="7.9" fill="#B79F00"/>
<ellipse cx="646.3" cy="332.7" rx="5.4" ry="7.9" fill="#B79F00"/>
<path d="M661.0 289.1L653.9 301.8H668.1Z" fill="#F8766D"/>
<path d="M661.0 286.0L653.9 298.7H668.1Z" fill="#00BA38"/>
<path d="M661.0 277.7L653.9 290.4H668.1Z" fill="#00BA38"/>
<path d="M661.0 283.4L653.9 296.1H668.1Z" fill="#F564E3"/>
<path d="M661.0 282.2L653.9 294.9H668.1Z" fill="#F564E3"/>
<rect x="671.2" y="255.5" width="10.2" height="10.2" fill="#00BFC4"/>
<rect x="671.2" y="266.8" width="10.2" height="10.2" fill="#619CFF"/>
<rect x="671.2" y="274.2" width="10.2" height="10.2" fill="#619CFF"/>
<rect x="671.2" y="279.2" width="10.2" height="10.2" fill="#619CFF"/>
<rect x="671.2" y="283.0" width="10.2" height="10.2" fill="#619CFF"/>
</g>
<path d="M441 181.5V343.8H685" stroke="#000" stroke-width="1.9" fill="none" stroke-linejoin="round"/>
</g>
<g id="panel-c">
<clipPath id="cp-c"><rect x="175" y="397.5" width="244.0" height="161.5"/></clipPath>
<line x1="175" y1="527.4" x2="411.8" y2="397.5" stroke="#d3d3d3" stroke-width="1.8" clip-path="url(#cp-c)"/>
<path d="M209.9 494.2L229.2 486.7L251.1 477.8L273.0 468.3L287.6 461.5L300.0 455.2L320.0 444.5L340.0 433.0L360.0 421.9L382.8 408.4L382.8 421.9L360.0 431.4L340.0 440.6L320.0 449.1L300.0 458.6L287.6 464.8L273.0 472.7L251.1 485.3L229.2 498.4L209.9 510.4Z" fill="#999" fill-opacity="0.3"/>
<line x1="209.9" y1="502.3" x2="382.8" y2="415.2" stroke="#282828" stroke-width="1.9"/>
<g fill-opacity="0.8">
<path d="M209.9 496.0L202.8 508.7H217.1Z" fill="#F564E3"/>
<ellipse cx="290.8" cy="463.1" rx="5.4" ry="7.9" fill="#B79F00"/>
<path d="M287.5 450.6L280.4 463.3H294.6Z" fill="#00BA38"/>
<rect x="266.8" y="464.3" width="10.2" height="10.2" fill="#619CFF"/>
<rect x="273.5" y="468.0" width="10.2" height="10.2" fill="#619CFF"/>
<rect x="288.5" y="453.3" width="10.2" height="10.2" fill="#619CFF"/>
<path d="M332.3 440.1L325.2 452.8H339.4Z" fill="#F8766D"/>
<ellipse cx="346.4" cy="441.6" rx="5.4" ry="7.9" fill="#B79F00"/>
<rect x="326.6" y="440.1" width="10.2" height="10.2" fill="#00BFC4"/>
<rect x="332.1" y="427.6" width="10.2" height="10.2" fill="#00BFC4"/>
<rect x="335.5" y="424.3" width="10.2" height="10.2" fill="#619CFF"/>
<path d="M368.6 418.9L361.5 431.6H375.8Z" fill="#F564E3"/>
<path d="M382.8 401.9L375.7 414.6H389.9Z" fill="#00BA38"/>
</g>
<path d="M371.1 473.9V553.3M368.6 512.9H418.5" stroke="#000" stroke-width="1.9" fill="none"/>
<g fill-opacity="0.8">
<ellipse cx="381.1" cy="511.8" rx="5.4" ry="7.9" fill="#B79F00"/>
<ellipse cx="381.1" cy="527.2" rx="5.4" ry="7.9" fill="#B79F00"/>
<path d="M395.5 519.0L388.4 531.7H402.6Z" fill="#F8766D"/>
<path d="M395.5 496.8L388.4 509.5H402.6Z" fill="#00BA38"/>
<path d="M395.5 512.9L388.4 525.6H402.6Z" fill="#F564E3"/>
<path d="M395.5 508.0L388.4 520.7H402.6Z" fill="#F564E3"/>
<rect x="406.2" y="509.3" width="10.2" height="10.2" fill="#00BFC4"/>
<rect x="406.2" y="494.4" width="10.2" height="10.2" fill="#619CFF"/>
<rect x="406.2" y="500.6" width="10.2" height="10.2" fill="#619CFF"/>
<rect x="406.2" y="505.6" width="10.2" height="10.2" fill="#619CFF"/>
<rect x="406.2" y="516.4" width="10.2" height="10.2" fill="#619CFF"/>
</g>
<path d="M175 397.5V559.1H418.5" stroke="#000" stroke-width="1.9" fill="none" stroke-linejoin="round"/>
</g>
<g id="panel-d">
<clipPath id="cp-d"><rect x="441" y="397.5" width="244.5" height="161.5"/></clipPath>
<line x1="441" y1="547.5" x2="685" y2="413.2" stroke="#d3d3d3" stroke-width="1.8" clip-path="url(#cp-d)"/>
<path d="M475.5 506.3L501.5 496.5L523.4 488.0L538.0 481.8L552.6 475.1L569.6 467.3L584.2 459.7L598.8 451.9L613.4 443.4L628.0 435.0L642.6 426.0L648.6 422.4L648.6 450.4L642.6 453.0L628.0 459.1L613.4 465.6L598.8 472.3L584.2 479.4L569.6 487.0L552.6 496.6L538.0 504.9L523.4 513.8L501.5 527.9L475.5 545.0Z" fill="#999" fill-opacity="0.3"/>
<line x1="475.5" y1="525.6" x2="648.6" y2="436.4" stroke="#282828" stroke-width="1.9"/>
<g fill-opacity="0.8">
<path d="M475.4 527.0L468.2 539.7H482.5Z" fill="#F564E3"/>
<ellipse cx="556.6" cy="504.8" rx="5.4" ry="7.9" fill="#B79F00"/>
<path d="M554.1 471.6L547.0 484.3H561.2Z" fill="#00BA38"/>
<rect x="532.8" y="483.8" width="10.2" height="10.2" fill="#619CFF"/>
<rect x="539.0" y="480.8" width="10.2" height="10.2" fill="#619CFF"/>
<rect x="554.2" y="464.3" width="10.2" height="10.2" fill="#619CFF"/>
<path d="M598.3 452.1L591.1 464.8H605.4Z" fill="#F8766D"/>
<ellipse cx="612.1" cy="471.1" rx="5.4" ry="7.9" fill="#B79F00"/>
<rect x="597.7" y="434.3" width="10.2" height="10.2" fill="#00BFC4"/>
<rect x="592.2" y="451.8" width="10.2" height="10.2" fill="#00BFC4"/>
<rect x="601.4" y="443.8" width="10.2" height="10.2" fill="#619CFF"/>
<path d="M634.1 447.4L627.0 460.1H641.2Z" fill="#F564E3"/>
<path d="M648.5 431.1L641.4 443.8H655.6Z" fill="#00BA38"/>
</g>
<path d="M636.8 472.6V552M634.3 511.3H684" stroke="#000" stroke-width="1.9" fill="none"/>
<g fill-opacity="0.8">
<ellipse cx="646.3" cy="540.9" rx="5.4" ry="7.9" fill="#B79F00"/>
<ellipse cx="646.3" cy="548.5" rx="5.4" ry="7.9" fill="#B79F00"/>
<path d="M661.0 501.4L653.9 514.1H668.1Z" fill="#F8766D"/>
<path d="M661.0 494.4L653.9 507.1H668.1Z" fill="#00BA38"/>
<path d="M661.0 510.8L653.9 523.5H668.1Z" fill="#00BA38"/>
<path d="M661.0 520.2L653.9 532.9H668.1Z" fill="#F564E3"/>
<path d="M661.0 525.7L653.9 538.4H668.1Z" fill="#F564E3"/>
<rect x="671.2" y="471.3" width="10.2" height="10.2" fill="#00BFC4"/>
<rect x="671.2" y="483.8" width="10.2" height="10.2" fill="#619CFF"/>
<rect x="671.2" y="491.2" width="10.2" height="10.2" fill="#619CFF"/>
<rect x="671.2" y="497.5" width="10.2" height="10.2" fill="#619CFF"/>
</g>
<path d="M441 397.5V559.1H685" stroke="#000" stroke-width="1.9" fill="none" stroke-linejoin="round"/>
</g>
<g id="panel-e">
<clipPath id="cp-e"><rect x="175" y="612.5" width="244.0" height="162.5"/></clipPath>
<line x1="175" y1="743.3" x2="418.5" y2="642.7" stroke="#d3d3d3" stroke-width="1.8" clip-path="url(#cp-e)"/>
<path d="M209.9 706.6L229.2 703.4L251.1 699.7L273.0 695.4L287.6 691.6L297.3 687.9L311.9 683.5L326.5 678.6L341.1 673.6L355.7 668.3L370.3 662.4L382.8 657.1L382.8 675.3L370.3 677.5L355.7 680.4L341.1 683.8L326.5 687.4L311.9 691.3L297.3 695.7L287.6 697.7L273.0 702.7L251.1 711.4L229.2 720.9L209.9 729.2Z" fill="#999" fill-opacity="0.3"/>
<line x1="209.9" y1="717.9" x2="382.8" y2="666.2" stroke="#282828" stroke-width="1.9"/>
<g fill-opacity="0.8">
<path d="M209.9 712.0L202.8 724.7H217.1Z" fill="#F564E3"/>
<ellipse cx="290.8" cy="697.6" rx="5.4" ry="7.9" fill="#B79F00"/>
<path d="M288.1 684.3L281.0 697.0H295.2Z" fill="#00BA38"/>
<rect x="266.8" y="697.5" width="10.2" height="10.2" fill="#619CFF"/>
<rect x="273.5" y="692.5" width="10.2" height="10.2" fill="#619CFF"/>
<rect x="288.5" y="679.8" width="10.2" height="10.2" fill="#619CFF"/>
<path d="M332.8 687.8L325.7 700.5H339.9Z" fill="#F8766D"/>
<ellipse cx="346.4" cy="681.1" rx="5.4" ry="7.9" fill="#B79F00"/>
<rect x="326.6" y="667.1" width="10.2" height="10.2" fill="#00BFC4"/>
<rect x="332.1" y="660.8" width="10.2" height="10.2" fill="#00BFC4"/>
<rect x="335.7" y="672.0" width="10.2" height="10.2" fill="#619CFF"/>
<path d="M368.6 669.3L361.5 682.0H375.8Z" fill="#F564E3"/>
<path d="M382.8 657.6L375.7 670.3H389.9Z" fill="#00BA38"/>
</g>
<path d="M371.1 688.9V768.3M368.6 725.3H418.5" stroke="#000" stroke-width="1.9" fill="none"/>
<g fill-opacity="0.8">
<ellipse cx="381.1" cy="729.7" rx="5.4" ry="7.9" fill="#B79F00"/>
<ellipse cx="381.1" cy="731.2" rx="5.4" ry="7.9" fill="#B79F00"/>
<path d="M395.5 738.5L388.4 751.2H402.6Z" fill="#F8766D"/>
<path d="M395.5 717.2L388.4 729.9H402.6Z" fill="#00BA38"/>
<path d="M395.5 714.7L388.4 727.4H402.6Z" fill="#00BA38"/>
<path d="M395.5 727.2L388.4 739.9H402.6Z" fill="#F564E3"/>
<path d="M395.5 723.2L388.4 735.9H402.6Z" fill="#F564E3"/>
<path d="M395.5 720.2L388.4 732.9H402.6Z" fill="#F564E3"/>
<rect x="406.2" y="699.5" width="10.2" height="10.2" fill="#00BFC4"/>
<rect x="406.2" y="707.0" width="10.2" height="10.2" fill="#619CFF"/>
<rect x="406.2" y="713.2" width="10.2" height="10.2" fill="#619CFF"/>
<rect x="406.2" y="719.5" width="10.2" height="10.2" fill="#619CFF"/>
<rect x="406.2" y="724.5" width="10.2" height="10.2" fill="#619CFF"/>
</g>
<path d="M175 612.5V775.1H418.5" stroke="#000" stroke-width="1.9" fill="none" stroke-linejoin="round"/>
</g>
<g id="panel-f">
<clipPath id="cp-f"><rect x="441" y="612.5" width="244.5" height="162.5"/></clipPath>
<line x1="441" y1="723.8" x2="685" y2="622.2" stroke="#d3d3d3" stroke-width="1.8" clip-path="url(#cp-f)"/>
<path d="M475.5 675.2L501.5 671.8L523.4 668.9L538.0 667.0L552.6 664.4L569.6 660.0L584.2 655.7L598.8 650.9L613.4 645.1L628.0 639.0L642.6 632.7L648.6 630.0L648.6 660.8L642.6 661.6L628.0 663.9L613.4 666.5L598.8 669.4L584.2 673.2L569.6 677.5L552.6 683.2L538.0 689.3L523.4 695.9L501.5 706.1L475.5 718.0Z" fill="#999" fill-opacity="0.3"/>
<line x1="475.5" y1="696.6" x2="648.6" y2="645.4" stroke="#282828" stroke-width="1.9"/>
<g fill-opacity="0.8">
<path d="M475.4 687.1L468.2 699.8H482.5Z" fill="#F564E3"/>
<ellipse cx="556.6" cy="694.8" rx="5.4" ry="7.9" fill="#B79F00"/>
<path d="M553.6 657.4L546.5 670.1H560.8Z" fill="#00BA38"/>
<rect x="532.8" y="676.5" width="10.2" height="10.2" fill="#619CFF"/>
<rect x="539.0" y="670.8" width="10.2" height="10.2" fill="#619CFF"/>
<rect x="554.2" y="653.3" width="10.2" height="10.2" fill="#619CFF"/>
<path d="M598.3 660.4L591.1 673.1H605.4Z" fill="#F8766D"/>
<ellipse cx="612.1" cy="683.6" rx="5.4" ry="7.9" fill="#B79F00"/>
<rect x="597.7" y="631.4" width="10.2" height="10.2" fill="#00BFC4"/>
<rect x="592.2" y="652.1" width="10.2" height="10.2" fill="#00BFC4"/>
<rect x="601.4" y="649.6" width="10.2" height="10.2" fill="#619CFF"/>
<path d="M634.1 639.1L627.0 651.8H641.2Z" fill="#F564E3"/>
<path d="M648.5 630.7L641.4 643.4H655.6Z" fill="#00BA38"/>
</g>
<path d="M636.8 687.1V767M634.3 723.9H684" stroke="#000" stroke-width="1.9" fill="none"/>
<g fill-opacity="0.8">
<ellipse cx="646.3" cy="755.9" rx="5.4" ry="7.9" fill="#B79F00"/>
<ellipse cx="646.3" cy="763.0" rx="5.4" ry="7.9" fill="#B79F00"/>
<path d="M661.0 728.3L653.9 741.0H668.1Z" fill="#F8766D"/>
<path d="M661.0 705.3L653.9 718.0H668.1Z" fill="#00BA38"/>
<path d="M661.0 708.3L653.9 721.0H668.1Z" fill="#00BA38"/>
<path d="M661.0 713.3L653.9 726.0H668.1Z" fill="#F564E3"/>
<path d="M661.0 713.5L653.9 726.2H668.1Z" fill="#F564E3"/>
<rect x="671.2" y="685.8" width="10.2" height="10.2" fill="#00BFC4"/>
<rect x="671.2" y="699.0" width="10.2" height="10.2" fill="#619CFF"/>
<rect x="671.2" y="714.2" width="10.2" height="10.2" fill="#00BFC4"/>
<rect x="671.2" y="715.7" width="10.2" height="10.2" fill="#619CFF"/>
<rect x="671.2" y="723.2" width="10.2" height="10.2" fill="#619CFF"/>
</g>
<path d="M441 612.5V775.1H685" stroke="#000" stroke-width="1.9" fill="none" stroke-linejoin="round"/>
</g>
<g id="panel-g">
<clipPath id="cp-g"><rect x="175" y="828" width="244.0" height="162"/></clipPath>
<line x1="175" y1="965.5" x2="418.5" y2="854" stroke="#d3d3d3" stroke-width="1.8" clip-path="url(#cp-g)"/>
<path d="M209.9 939.4L250.0 925.4L300.0 906.7L340.0 889.2L382.8 868.9L382.8 879.9L340.0 895.2L300.0 911.1L250.0 934.0L209.9 953.4Z" fill="#999" fill-opacity="0.3"/>
<line x1="209.9" y1="946.4" x2="382.8" y2="874.4" stroke="#282828" stroke-width="1.9"/>
<g fill-opacity="0.8">
<path d="M209.9 940.8L202.8 953.5H217.1Z" fill="#F564E3"/>
<ellipse cx="290.8" cy="910.8" rx="5.4" ry="7.9" fill="#B79F00"/>
<path d="M288.1 903.8L281.0 916.5H295.2Z" fill="#00BA38"/>
<rect x="266.8" y="912.3" width="10.2" height="10.2" fill="#619CFF"/>
<rect x="273.5" y="915.5" width="10.2" height="10.2" fill="#619CFF"/>
<rect x="288.5" y="903.5" width="10.2" height="10.2" fill="#619CFF"/>
<path d="M332.8 893.8L325.7 906.5H339.9Z" fill="#F8766D"/>
<ellipse cx="346.4" cy="894.8" rx="5.4" ry="7.9" fill="#B79F00"/>
<rect x="326.6" y="893.8" width="10.2" height="10.2" fill="#00BFC4"/>
<rect x="332.1" y="883.1" width="10.2" height="10.2" fill="#00BFC4"/>
<rect x="335.5" y="882.6" width="10.2" height="10.2" fill="#619CFF"/>
<path d="M368.6 873.1L361.5 885.8H375.8Z" fill="#F564E3"/>
<path d="M382.8 865.1L375.7 877.8H389.9Z" fill="#00BA38"/>
</g>
<path d="M371.1 903.9V983.8M368.6 935.8H418.5" stroke="#000" stroke-width="1.9" fill="none"/>
<g fill-opacity="0.8">
<ellipse cx="381.1" cy="931.6" rx="5.4" ry="7.9" fill="#B79F00"/>
<ellipse cx="381.1" cy="947.3" rx="5.4" ry="7.9" fill="#B79F00"/>
<path d="M395.5 942.9L388.4 955.6H402.6Z" fill="#F8766D"/>
<path d="M395.5 926.6L388.4 939.3H402.6Z" fill="#00BA38"/>
<path d="M395.5 925.0L388.4 937.7H402.6Z" fill="#00BA38"/>
<path d="M395.5 934.5L388.4 947.2H402.6Z" fill="#F564E3"/>
<path d="M395.5 931.3L388.4 944.0H402.6Z" fill="#F564E3"/>
<rect x="406.2" y="918.4" width="10.2" height="10.2" fill="#00BFC4"/>
<rect x="406.2" y="937.8" width="10.2" height="10.2" fill="#00BFC4"/>
<rect x="406.2" y="921.9" width="10.2" height="10.2" fill="#619CFF"/>
<rect x="406.2" y="926.9" width="10.2" height="10.2" fill="#619CFF"/>
<rect x="406.2" y="932.1" width="10.2" height="10.2" fill="#619CFF"/>
<rect x="406.2" y="937.1" width="10.2" height="10.2" fill="#619CFF"/>
</g>
<path d="M175 828V990.1H418.5" stroke="#000" stroke-width="1.9" fill="none" stroke-linejoin="round"/>
</g>
<g id="panel-h">
<clipPath id="cp-h"><rect x="441" y="828" width="244.5" height="162"/></clipPath>
<line x1="441" y1="970.5" x2="685" y2="858.7" stroke="#d3d3d3" stroke-width="1.8" clip-path="url(#cp-h)"/>
<path d="M475.5 932.2L501.5 925.5L523.4 919.8L538.0 915.8L552.6 911.6L569.6 906.0L584.2 900.2L598.8 894.3L613.4 888.1L628.0 881.1L642.6 874.2L648.6 871.2L648.6 890.8L642.6 892.4L628.0 896.5L613.4 900.5L598.8 905.3L584.2 910.4L569.6 915.5L552.6 922.8L538.0 929.5L523.4 936.6L501.5 947.4L475.5 960.2Z" fill="#999" fill-opacity="0.3"/>
<line x1="475.5" y1="946.2" x2="648.6" y2="881.0" stroke="#282828" stroke-width="1.9"/>
<g fill-opacity="0.8">
<path d="M475.4 938.3L468.2 951.0H482.5Z" fill="#F564E3"/>
<ellipse cx="556.6" cy="930.8" rx="5.4" ry="7.9" fill="#B79F00"/>
<path d="M554.1 909.1L547.0 921.8H561.2Z" fill="#00BA38"/>
<rect x="532.8" y="914.3" width="10.2" height="10.2" fill="#619CFF"/>
<rect x="539.0" y="913.8" width="10.2" height="10.2" fill="#619CFF"/>
<rect x="554.2" y="903.5" width="10.2" height="10.2" fill="#619CFF"/>
<path d="M598.3 893.1L591.1 905.8H605.4Z" fill="#F8766D"/>
<ellipse cx="612.1" cy="914.8" rx="5.4" ry="7.9" fill="#B79F00"/>
<rect x="597.7" y="880.6" width="10.2" height="10.2" fill="#00BFC4"/>
<rect x="592.2" y="893.0" width="10.2" height="10.2" fill="#00BFC4"/>
<rect x="601.4" y="885.5" width="10.2" height="10.2" fill="#619CFF"/>
<path d="M634.1 873.1L627.0 885.8H641.2Z" fill="#F564E3"/>
<path d="M648.5 873.9L641.4 886.6H655.6Z" fill="#00BA38"/>
</g>
<path d="M636.8 902.4V981.8M634.3 934.8H684" stroke="#000" stroke-width="1.9" fill="none"/>
<g fill-opacity="0.8">
<ellipse cx="646.3" cy="967.3" rx="5.4" ry="7.9" fill="#B79F00"/>
<ellipse cx="646.3" cy="978.2" rx="5.4" ry="7.9" fill="#B79F00"/>
<path d="M661.0 926.8L653.9 939.5H668.1Z" fill="#F8766D"/>
<path d="M661.0 930.1L653.9 942.8H668.1Z" fill="#00BA38"/>
<path d="M661.0 926.6L653.9 939.3H668.1Z" fill="#F564E3"/>
<path d="M661.0 915.8L653.9 928.5H668.1Z" fill="#F564E3"/>
<rect x="671.2" y="901.0" width="10.2" height="10.2" fill="#00BFC4"/>
<rect x="671.2" y="915.0" width="10.2" height="10.2" fill="#619CFF"/>
<rect x="671.2" y="920.5" width="10.2" height="10.2" fill="#619CFF"/>
<rect x="671.2" y="925.0" width="10.2" height="10.2" fill="#619CFF"/>
</g>
<path d="M441 828V990.1H685" stroke="#000" stroke-width="1.9" fill="none" stroke-linejoin="round"/>
</g>
<g id="panel-i">
<clipPath id="cp-i"><rect x="175" y="1043.3" width="244.0" height="162.29999999999995"/></clipPath>
<line x1="175" y1="1171.0" x2="419" y2="1171.0" stroke="#d3d3d3" stroke-width="1.8" clip-path="url(#cp-i)"/>
<path d="M209.9 1141.7L229.2 1147.7L251.1 1154.3L273.0 1160.3L287.6 1163.7L297.3 1165.4L311.9 1167.0L326.5 1168.8L341.1 1170.4L355.7 1172.0L370.3 1173.6L382.8 1175.0L382.8 1194.5L370.3 1191.9L355.7 1188.6L341.1 1185.3L326.5 1182.0L311.9 1178.9L297.3 1175.5L287.6 1173.9L273.0 1172.4L251.1 1171.1L229.2 1170.3L209.9 1169.9Z" fill="#999" fill-opacity="0.3"/>
<line x1="209.9" y1="1155.8" x2="382.8" y2="1184.8" stroke="#282828" stroke-width="1.9"/>
<g fill-opacity="0.8">
<path d="M209.9 1147.3L202.8 1160.0H217.1Z" fill="#F564E3"/>
<ellipse cx="290.8" cy="1177.7" rx="5.4" ry="7.9" fill="#B79F00"/>
<path d="M287.6 1165.3L280.5 1178.0H294.8Z" fill="#00BA38"/>
<rect x="266.8" y="1166.7" width="10.2" height="10.2" fill="#619CFF"/>
<rect x="273.5" y="1161.7" width="10.2" height="10.2" fill="#619CFF"/>
<rect x="288.5" y="1156.0" width="10.2" height="10.2" fill="#619CFF"/>
<path d="M333.0 1181.2L325.9 1193.9H340.1Z" fill="#F8766D"/>
<ellipse cx="346.4" cy="1180.2" rx="5.4" ry="7.9" fill="#B79F00"/>
<rect x="326.7" y="1152.5" width="10.2" height="10.2" fill="#00BFC4"/>
<rect x="332.2" y="1161.0" width="10.2" height="10.2" fill="#00BFC4"/>
<rect x="335.4" y="1172.4" width="10.2" height="10.2" fill="#619CFF"/>
<path d="M368.6 1175.2L361.5 1187.9H375.8Z" fill="#F564E3"/>
<path d="M382.8 1183.2L375.7 1195.9H389.9Z" fill="#00BA38"/>
</g>
<path d="M371.1 1043.2V1122.6M368.6 1088.2H418.5" stroke="#000" stroke-width="1.9" fill="none"/>
<g fill-opacity="0.8">
<ellipse cx="381.1" cy="1092.9" rx="5.4" ry="7.9" fill="#B79F00"/>
<ellipse cx="381.1" cy="1106.1" rx="5.4" ry="7.9" fill="#B79F00"/>
<path d="M395.5 1108.8L388.4 1121.5H402.6Z" fill="#F8766D"/>
<path d="M395.5 1095.1L388.4 1107.8H402.6Z" fill="#00BA38"/>
<path d="M395.5 1091.4L388.4 1104.1H402.6Z" fill="#00BA38"/>
<path d="M395.5 1083.2L388.4 1095.9H402.6Z" fill="#F564E3"/>
<path d="M395.5 1079.6L388.4 1092.3H402.6Z" fill="#F564E3"/>
<rect x="406.2" y="1041.9" width="10.2" height="10.2" fill="#00BFC4"/>
<rect x="406.2" y="1057.6" width="10.2" height="10.2" fill="#00BFC4"/>
<rect x="406.2" y="1063.1" width="10.2" height="10.2" fill="#619CFF"/>
<rect x="406.2" y="1083.1" width="10.2" height="10.2" fill="#619CFF"/>
<rect x="406.2" y="1088.1" width="10.2" height="10.2" fill="#619CFF"/>
<rect x="406.2" y="1093.8" width="10.2" height="10.2" fill="#619CFF"/>
</g>
<path d="M175 1043.3V1205.6999999999998H418.5" stroke="#000" stroke-width="1.9" fill="none" stroke-linejoin="round"/>
</g>
<g id="panel-j">
<clipPath id="cp-j"><rect x="441" y="1043.3" width="244.5" height="162.29999999999995"/></clipPath>
<line x1="441" y1="1137.9" x2="685" y2="1137.9" stroke="#d3d3d3" stroke-width="1.8" clip-path="url(#cp-j)"/>
<path d="M475.5 1112.1L501.5 1118.7L523.4 1124.1L538.0 1127.7L552.6 1130.9L569.6 1133.7L584.2 1135.7L598.8 1137.3L613.4 1138.5L628.0 1139.5L642.6 1140.3L648.6 1140.8L648.6 1158.3L642.6 1157.1L628.0 1153.7L613.4 1150.5L598.8 1147.5L584.2 1144.9L569.6 1142.7L552.6 1140.7L538.0 1139.7L523.4 1139.0L501.5 1138.1L475.5 1137.3Z" fill="#999" fill-opacity="0.3"/>
<line x1="475.5" y1="1124.7" x2="648.6" y2="1149.6" stroke="#282828" stroke-width="1.9"/>
<g fill-opacity="0.8">
<path d="M475.4 1115.6L468.2 1128.3H482.5Z" fill="#F564E3"/>
<ellipse cx="556.6" cy="1147.0" rx="5.4" ry="7.9" fill="#B79F00"/>
<path d="M553.6 1127.1L546.5 1139.8H560.8Z" fill="#00BA38"/>
<rect x="532.8" y="1123.8" width="10.2" height="10.2" fill="#619CFF"/>
<rect x="539.0" y="1128.8" width="10.2" height="10.2" fill="#619CFF"/>
<rect x="554.2" y="1127.5" width="10.2" height="10.2" fill="#619CFF"/>
<path d="M598.3 1147.0L591.1 1159.7H605.4Z" fill="#F8766D"/>
<ellipse cx="612.1" cy="1158.3" rx="5.4" ry="7.9" fill="#B79F00"/>
<rect x="592.2" y="1129.3" width="10.2" height="10.2" fill="#00BFC4"/>
<rect x="597.7" y="1126.8" width="10.2" height="10.2" fill="#00BFC4"/>
<rect x="601.4" y="1140.5" width="10.2" height="10.2" fill="#619CFF"/>
<path d="M634.1 1139.5L627.0 1152.2H641.2Z" fill="#F564E3"/>
<path d="M648.5 1132.8L641.4 1145.5H655.6Z" fill="#00BA38"/>
</g>
<path d="M636.8 1042V1121.1M634.3 1086.9H684" stroke="#000" stroke-width="1.9" fill="none"/>
<g fill-opacity="0.8">
<ellipse cx="646.3" cy="1110.0" rx="5.4" ry="7.9" fill="#B79F00"/>
<ellipse cx="646.3" cy="1117.9" rx="5.4" ry="7.9" fill="#B79F00"/>
<path d="M661.0 1108.4L653.9 1121.1H668.1Z" fill="#F8766D"/>
<path d="M661.0 1061.4L653.9 1074.1H668.1Z" fill="#00BA38"/>
<path d="M661.0 1080.1L653.9 1092.8H668.1Z" fill="#F564E3"/>
<path d="M661.0 1077.6L653.9 1090.3H668.1Z" fill="#F564E3"/>
<rect x="671.2" y="1056.7" width="10.2" height="10.2" fill="#00BFC4"/>
<rect x="671.2" y="1064.3" width="10.2" height="10.2" fill="#00BFC4"/>
<rect x="671.2" y="1071.1" width="10.2" height="10.2" fill="#619CFF"/>
<rect x="671.2" y="1075.9" width="10.2" height="10.2" fill="#619CFF"/>
<rect x="671.2" y="1080.6" width="10.2" height="10.2" fill="#619CFF"/>
<rect x="671.2" y="1085.4" width="10.2" height="10.2" fill="#619CFF"/>
</g>
<path d="M441 1043.3V1205.6999999999998H685" stroke="#000" stroke-width="1.9" fill="none" stroke-linejoin="round"/>
</g>
<line x1="169.2" x2="175" y1="192.3" y2="192.3" stroke="#000" stroke-width="1.8"/>
<g opacity="0.999"><text transform="translate(163.4 199.5) scale(1 1.045)" font-size="16.6" text-anchor="end">128</text></g>
<line x1="169.2" x2="175" y1="214.7" y2="214.7" stroke="#000" stroke-width="1.8"/>
<g opacity="0.999"><text transform="translate(163.4 221.9) scale(1 1.045)" font-size="16.6" text-anchor="end">64</text></g>
<line x1="169.2" x2="175" y1="237.1" y2="237.1" stroke="#000" stroke-width="1.8"/>
<g opacity="0.999"><text transform="translate(163.4 244.3) scale(1 1.045)" font-size="16.6" text-anchor="end">32</text></g>
<line x1="169.2" x2="175" y1="259.4" y2="259.4" stroke="#000" stroke-width="1.8"/>
<g opacity="0.999"><text transform="translate(163.4 266.6) scale(1 1.045)" font-size="16.6" text-anchor="end">16</text></g>
<line x1="169.2" x2="175" y1="281.8" y2="281.8" stroke="#000" stroke-width="1.8"/>
<g opacity="0.999"><text transform="translate(163.4 289.0) scale(1 1.045)" font-size="16.6" text-anchor="end">8</text></g>
<line x1="169.2" x2="175" y1="304.4" y2="304.4" stroke="#000" stroke-width="1.8"/>
<g opacity="0.999"><text transform="translate(163.4 311.6) scale(1 1.045)" font-size="16.6" text-anchor="end">4</text></g>
<line x1="169.2" x2="175" y1="327.1" y2="327.1" stroke="#000" stroke-width="1.8"/>
<g opacity="0.999"><text transform="translate(163.4 334.3) scale(1 1.045)" font-size="16.6" text-anchor="end">2</text></g>
<line x1="169.2" x2="175" y1="404.4" y2="404.4" stroke="#000" stroke-width="1.8"/>
<g opacity="0.999"><text transform="translate(163.4 411.6) scale(1 1.045)" font-size="16.6" text-anchor="end">64</text></g>
<line x1="169.2" x2="175" y1="434" y2="434" stroke="#000" stroke-width="1.8"/>
<g opacity="0.999"><text transform="translate(163.4 441.2) scale(1 1.045)" font-size="16.6" text-anchor="end">32</text></g>
<line x1="169.2" x2="175" y1="463.3" y2="463.3" stroke="#000" stroke-width="1.8"/>
<g opacity="0.999"><text transform="translate(163.4 470.5) scale(1 1.045)" font-size="16.6" text-anchor="end">16</text></g>
<line x1="169.2" x2="175" y1="492.9" y2="492.9" stroke="#000" stroke-width="1.8"/>
<g opacity="0.999"><text transform="translate(163.4 500.1) scale(1 1.045)" font-size="16.6" text-anchor="end">8</text></g>
<line x1="169.2" x2="175" y1="522.6" y2="522.6" stroke="#000" stroke-width="1.8"/>
<g opacity="0.999"><text transform="translate(163.4 529.8) scale(1 1.045)" font-size="16.6" text-anchor="end">4</text></g>
<line x1="169.2" x2="175" y1="552.3" y2="552.3" stroke="#000" stroke-width="1.8"/>
<g opacity="0.999"><text transform="translate(163.4 559.5) scale(1 1.045)" font-size="16.6" text-anchor="end">2</text></g>
<line x1="169.2" x2="175" y1="619.8" y2="619.8" stroke="#000" stroke-width="1.8"/>
<g opacity="0.999"><text transform="translate(163.4 627.0) scale(1 1.045)" font-size="16.6" text-anchor="end">4.0</text></g>
<line x1="169.2" x2="175" y1="664.2" y2="664.2" stroke="#000" stroke-width="1.8"/>
<g opacity="0.999"><text transform="translate(163.4 671.4) scale(1 1.045)" font-size="16.6" text-anchor="end">2.0</text></g>
<line x1="169.2" x2="175" y1="708.7" y2="708.7" stroke="#000" stroke-width="1.8"/>
<g opacity="0.999"><text transform="translate(163.4 715.9) scale(1 1.045)" font-size="16.6" text-anchor="end">1.0</text></g>
<line x1="169.2" x2="175" y1="753.2" y2="753.2" stroke="#000" stroke-width="1.8"/>
<g opacity="0.999"><text transform="translate(163.4 760.4) scale(1 1.045)" font-size="16.6" text-anchor="end">0.5</text></g>
<line x1="169.2" x2="175" y1="834.9" y2="834.9" stroke="#000" stroke-width="1.8"/>
<g opacity="0.999"><text transform="translate(163.4 842.1) scale(1 1.045)" font-size="16.6" text-anchor="end">16</text></g>
<line x1="169.2" x2="175" y1="884.1" y2="884.1" stroke="#000" stroke-width="1.8"/>
<g opacity="0.999"><text transform="translate(163.4 891.3) scale(1 1.045)" font-size="16.6" text-anchor="end">8</text></g>
<line x1="169.2" x2="175" y1="933.5" y2="933.5" stroke="#000" stroke-width="1.8"/>
<g opacity="0.999"><text transform="translate(163.4 940.7) scale(1 1.045)" font-size="16.6" text-anchor="end">4</text></g>
<line x1="169.2" x2="175" y1="982.9" y2="982.9" stroke="#000" stroke-width="1.8"/>
<g opacity="0.999"><text transform="translate(163.4 990.1) scale(1 1.045)" font-size="16.6" text-anchor="end">2</text></g>
<line x1="169.2" x2="175" y1="1065.1" y2="1065.1" stroke="#000" stroke-width="1.8"/>
<g opacity="0.999"><text transform="translate(163.4 1072.3) scale(1 1.045)" font-size="16.6" text-anchor="end">0.8</text></g>
<line x1="169.2" x2="175" y1="1126.3" y2="1126.3" stroke="#000" stroke-width="1.8"/>
<g opacity="0.999"><text transform="translate(163.4 1133.5) scale(1 1.045)" font-size="16.6" text-anchor="end">0.4</text></g>
<line x1="169.2" x2="175" y1="1187.5" y2="1187.5" stroke="#000" stroke-width="1.8"/>
<g opacity="0.999"><text transform="translate(163.4 1194.7) scale(1 1.045)" font-size="16.6" text-anchor="end">0.2</text></g>
<g opacity="0.999"><text transform="translate(116.3 260.8) rotate(-90) scale(1 1.045)" font-size="16.6" text-anchor="middle">Volume [mm³]</text></g>
<g opacity="0.999"><text transform="translate(116.3 477.7) rotate(-90) scale(1 1.045)" font-size="16.6" text-anchor="middle">Area [mm²]</text></g>
<g opacity="0.999"><text transform="translate(116.3 694.8) rotate(-90) scale(1 1.045)" font-size="16.6" text-anchor="middle">Thickness [mm]</text></g>
<g opacity="0.999"><text transform="translate(116.3 911.7) rotate(-90) scale(1 1.045)" font-size="16.6" text-anchor="middle">Width [mm]</text></g>
<g opacity="0.999"><text transform="translate(116.3 1128.6) rotate(-90) scale(1 1.045)" font-size="16.6" text-anchor="middle">Thickness / Width</text></g>
<g opacity="0.999"><text transform="translate(162.3 171.9) scale(1 1.03)" font-size="20" text-anchor="start" font-weight="bold">a</text></g>
<g opacity="0.999"><text transform="translate(428.3 171.9) scale(1 1.03)" font-size="20" text-anchor="start" font-weight="bold">b</text></g>
<g opacity="0.999"><text transform="translate(162.3 387.2) scale(1 1.03)" font-size="20" text-anchor="start" font-weight="bold">c</text></g>
<g opacity="0.999"><text transform="translate(428.2 387.2) scale(1 1.03)" font-size="20" text-anchor="start" font-weight="bold">d</text></g>
<g opacity="0.999"><text transform="translate(162.3 602.8) scale(1 1.03)" font-size="20" text-anchor="start" font-weight="bold">e</text></g>
<g opacity="0.999"><text transform="translate(428.2 602.6) scale(1 1.03)" font-size="20" text-anchor="start" font-weight="bold">f</text></g>
<g opacity="0.999"><text transform="translate(162.3 818.2) scale(1 1.03)" font-size="20" text-anchor="start" font-weight="bold">g</text></g>
<g opacity="0.999"><text transform="translate(428.3 818.2) scale(1 1.03)" font-size="20" text-anchor="start" font-weight="bold">h</text></g>
<g opacity="0.999"><text transform="translate(162.6 1034.6) scale(1 1.03)" font-size="20" text-anchor="start" font-weight="bold">i</text></g>
<g opacity="0.999"><text transform="translate(428.3 1034.6) scale(1 1.03)" font-size="20" text-anchor="start" font-weight="bold">j</text></g>
<line x1="185.6" x2="185.6" y1="1205.6" y2="1211.5" stroke="#000" stroke-width="1.8"/>
<g opacity="0.999"><text transform="translate(185.6 1229.4) scale(1 1.045)" font-size="16.6" text-anchor="middle">16</text></g>
<line x1="239.5" x2="239.5" y1="1205.6" y2="1211.5" stroke="#000" stroke-width="1.8"/>
<g opacity="0.999"><text transform="translate(239.5 1229.4) scale(1 1.045)" font-size="16.6" text-anchor="middle">32</text></g>
<line x1="293.3" x2="293.3" y1="1205.6" y2="1211.5" stroke="#000" stroke-width="1.8"/>
<g opacity="0.999"><text transform="translate(293.3 1229.4) scale(1 1.045)" font-size="16.6" text-anchor="middle">64</text></g>
<line x1="347.0" x2="347.0" y1="1205.6" y2="1211.5" stroke="#000" stroke-width="1.8"/>
<g opacity="0.999"><text transform="translate(345.4 1229.4) scale(1 1.045)" font-size="16.6" text-anchor="middle">128</text></g>
<line x1="400.9" x2="400.9" y1="1205.6" y2="1211.5" stroke="#000" stroke-width="1.8"/>
<g opacity="0.999"><text transform="translate(398.59999999999997 1229.4) scale(1 1.045)" font-size="16.6" text-anchor="middle">256</text></g>
<line x1="451.7" x2="451.7" y1="1205.6" y2="1211.5" stroke="#000" stroke-width="1.8"/>
<g opacity="0.999"><text transform="translate(451.7 1229.4) scale(1 1.045)" font-size="16.6" text-anchor="middle">16</text></g>
<line x1="505.4" x2="505.4" y1="1205.6" y2="1211.5" stroke="#000" stroke-width="1.8"/>
<g opacity="0.999"><text transform="translate(505.4 1229.4) scale(1 1.045)" font-size="16.6" text-anchor="middle">32</text></g>
<line x1="559.0" x2="559.0" y1="1205.6" y2="1211.5" stroke="#000" stroke-width="1.8"/>
<g opacity="0.999"><text transform="translate(559.0 1229.4) scale(1 1.045)" font-size="16.6" text-anchor="middle">64</text></g>
<line x1="612.9" x2="612.9" y1="1205.6" y2="1211.5" stroke="#000" stroke-width="1.8"/>
<g opacity="0.999"><text transform="translate(611.3 1229.4) scale(1 1.045)" font-size="16.6" text-anchor="middle">128</text></g>
<line x1="666.8" x2="666.8" y1="1205.6" y2="1211.5" stroke="#000" stroke-width="1.8"/>
<g opacity="0.999"><text transform="translate(664.5 1229.4) scale(1 1.045)" font-size="16.6" text-anchor="middle">256</text></g>
<g opacity="0.999"><text transform="translate(417.6 1263.5) scale(1 1.045)" font-size="16.7" text-anchor="middle">Carapace surface area [cm²]</text></g>
<path d="M41.2 1284.1L36.6 1292.8H45.800000000000004Z" fill="#F8766D" fill-opacity="0.8"/>
<g opacity="0.999"><text transform="translate(51.8 1294.1) scale(1 1.045)" font-size="16.6" text-anchor="start" font-style="italic">Acanthostracion</text></g>
<ellipse cx="191.7" cy="1288.8" rx="3.9" ry="5.4" fill="#B79F00" fill-opacity="0.9"/>
<g opacity="0.999"><text transform="translate(201.3 1294.1) scale(1 1.045)" font-size="16.6" text-anchor="start" font-style="italic">Aracana</text></g>
<path d="M284.0 1284.1L279.4 1292.8H288.6Z" fill="#00BA38" fill-opacity="0.8"/>
<g opacity="0.999"><text transform="translate(295.4 1294.1) scale(1 1.045)" font-size="16.6" text-anchor="start" font-style="italic">Lactophrys</text></g>
<rect x="392.8" y="1284.1" width="9" height="8.8" fill="#00BFC4" fill-opacity="0.8"/>
<g opacity="0.999"><text transform="translate(409.4 1294.1) scale(1 1.045)" font-size="16.6" text-anchor="start" font-style="italic">Lactoria</text></g>
<rect x="485.3" y="1284.1" width="9" height="8.8" fill="#619CFF" fill-opacity="0.8"/>
<g opacity="0.999"><text transform="translate(498.7 1294.1) scale(1 1.045)" font-size="16.6" text-anchor="start" font-style="italic">Ostracion</text></g>
<path d="M586.8 1284.1L582.1999999999999 1292.8H591.4Z" fill="#F564E3" fill-opacity="0.8"/>
<g opacity="0.999"><text transform="translate(596.5 1294.1) scale(1 1.045)" font-size="16.6" text-anchor="start" font-style="italic">Tetrosomus</text></g>
<g opacity="0.999"><text transform="translate(264.3 114.2) scale(1 1.045)" font-size="16.8" text-anchor="middle">Scutes on flat</text></g>
<g opacity="0.999"><text transform="translate(266 134) scale(1 1.045)" font-size="16.8" text-anchor="middle">regions (CGS &lt; 5)</text></g>
<g opacity="0.999"><text transform="translate(594 114.2) scale(1 1.045)" font-size="16.7" text-anchor="middle">Scutes along</text></g>
<g opacity="0.999"><text transform="translate(597 134) scale(1 1.045)" font-size="16.8" text-anchor="middle">edges (CGS ≥ 5)</text></g>
</svg></body></html>
